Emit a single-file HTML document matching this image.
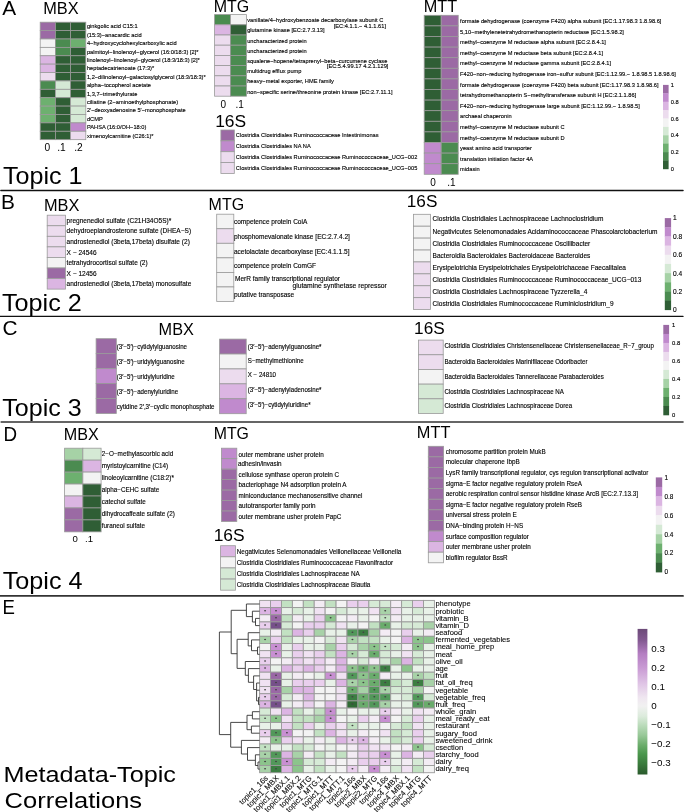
<!DOCTYPE html>
<html><head><meta charset="utf-8"><title>Figure</title>
<style>
html,body{margin:0;padding:0;background:#fff;}
body{width:685px;height:812px;overflow:hidden;}
svg{display:block;font-family:"Liberation Sans",sans-serif;will-change:transform;}
</style></head><body>
<svg width="685" height="812" viewBox="0 0 685 812">
<rect x="0" y="0" width="685" height="812" fill="#fff"/>
<line x1="0.9" y1="190.6" x2="683" y2="190.6" stroke="#111" stroke-width="1.5" stroke-linecap="round"/>
<line x1="0" y1="316.4" x2="683" y2="316.4" stroke="#111" stroke-width="1.3" stroke-linecap="round"/>
<line x1="1.2" y1="422.05" x2="683" y2="422.05" stroke="#333" stroke-width="1.6" stroke-linecap="round"/>
<line x1="0" y1="595.95" x2="683" y2="595.95" stroke="#333" stroke-width="1.8" stroke-linecap="round"/>
<text x="2.20" y="14.60" font-size="20.8" fill="#000">A</text>
<text x="1.00" y="208.70" font-size="20.8" fill="#000">B</text>
<text x="2.40" y="334.50" font-size="20.8" fill="#000">C</text>
<text x="3.60" y="441.00" font-size="20.8" fill="#000" textLength="13.6" lengthAdjust="spacingAndGlyphs">D</text>
<text x="2.40" y="614.00" font-size="20.8" fill="#000" textLength="12.4" lengthAdjust="spacingAndGlyphs">E</text>
<text x="3.00" y="184.20" font-size="23.8" fill="#000" textLength="79.5" lengthAdjust="spacingAndGlyphs">Topic 1</text>
<text x="2.00" y="310.50" font-size="23.8" fill="#000" textLength="79.8" lengthAdjust="spacingAndGlyphs">Topic 2</text>
<text x="2.30" y="415.60" font-size="23.8" fill="#000" textLength="79.3" lengthAdjust="spacingAndGlyphs">Topic 3</text>
<text x="2.70" y="588.60" font-size="23.8" fill="#000" textLength="79.8" lengthAdjust="spacingAndGlyphs">Topic 4</text>
<text x="3.50" y="782.10" font-size="22.5" fill="#000" textLength="172.5" lengthAdjust="spacingAndGlyphs">Metadata-Topic</text>
<text x="4.60" y="808.40" font-size="22.5" fill="#000" textLength="137.5" lengthAdjust="spacingAndGlyphs">Correlations</text>
<text x="43.20" y="14.00" font-size="16.7" fill="#000" textLength="35.4" lengthAdjust="spacingAndGlyphs">MBX</text>
<text x="213.80" y="11.70" font-size="16.7" fill="#000" textLength="35.5" lengthAdjust="spacingAndGlyphs">MTG</text>
<text x="215.20" y="127.00" font-size="16.7" fill="#000" textLength="31" lengthAdjust="spacingAndGlyphs">16S</text>
<text x="423.80" y="11.70" font-size="16.7" fill="#000" textLength="33.4" lengthAdjust="spacingAndGlyphs">MTT</text>
<text x="43.90" y="211.30" font-size="16.7" fill="#000" textLength="35.4" lengthAdjust="spacingAndGlyphs">MBX</text>
<text x="208.60" y="209.50" font-size="16.7" fill="#000" textLength="35.5" lengthAdjust="spacingAndGlyphs">MTG</text>
<text x="406.80" y="206.90" font-size="16.7" fill="#000" textLength="30.6" lengthAdjust="spacingAndGlyphs">16S</text>
<text x="158.60" y="334.60" font-size="16.7" fill="#000" textLength="35.3" lengthAdjust="spacingAndGlyphs">MBX</text>
<text x="414.10" y="334.00" font-size="16.7" fill="#000" textLength="30.6" lengthAdjust="spacingAndGlyphs">16S</text>
<text x="63.70" y="440.00" font-size="16.7" fill="#000" textLength="35.0" lengthAdjust="spacingAndGlyphs">MBX</text>
<text x="213.70" y="438.70" font-size="16.7" fill="#000" textLength="35.2" lengthAdjust="spacingAndGlyphs">MTG</text>
<text x="213.70" y="541.30" font-size="16.7" fill="#000" textLength="31" lengthAdjust="spacingAndGlyphs">16S</text>
<text x="416.80" y="437.50" font-size="16.7" fill="#000" textLength="33.6" lengthAdjust="spacingAndGlyphs">MTT</text>
<rect x="40.20" y="22.20" width="15.20" height="8.39" fill="#9b6aa4" stroke="#999999" stroke-width="0.8"/>
<rect x="55.40" y="22.20" width="15.20" height="8.39" fill="#2f5e35" stroke="#999999" stroke-width="0.8"/>
<rect x="70.60" y="22.20" width="15.20" height="8.39" fill="#2f5e35" stroke="#999999" stroke-width="0.8"/>
<rect x="40.20" y="30.59" width="15.20" height="8.39" fill="#9b6aa4" stroke="#999999" stroke-width="0.8"/>
<rect x="55.40" y="30.59" width="15.20" height="8.39" fill="#2f5e35" stroke="#999999" stroke-width="0.8"/>
<rect x="70.60" y="30.59" width="15.20" height="8.39" fill="#2f5e35" stroke="#999999" stroke-width="0.8"/>
<rect x="40.20" y="38.98" width="15.20" height="8.39" fill="#f3f3f3" stroke="#999999" stroke-width="0.8"/>
<rect x="55.40" y="38.98" width="15.20" height="8.39" fill="#4b8b50" stroke="#999999" stroke-width="0.8"/>
<rect x="70.60" y="38.98" width="15.20" height="8.39" fill="#6db06f" stroke="#999999" stroke-width="0.8"/>
<rect x="40.20" y="47.37" width="15.20" height="8.39" fill="#f3f3f3" stroke="#999999" stroke-width="0.8"/>
<rect x="55.40" y="47.37" width="15.20" height="8.39" fill="#4b8b50" stroke="#999999" stroke-width="0.8"/>
<rect x="70.60" y="47.37" width="15.20" height="8.39" fill="#2f5e35" stroke="#999999" stroke-width="0.8"/>
<rect x="40.20" y="55.76" width="15.20" height="8.39" fill="#dbb5e2" stroke="#999999" stroke-width="0.8"/>
<rect x="55.40" y="55.76" width="15.20" height="8.39" fill="#2f5e35" stroke="#999999" stroke-width="0.8"/>
<rect x="70.60" y="55.76" width="15.20" height="8.39" fill="#2f5e35" stroke="#999999" stroke-width="0.8"/>
<rect x="40.20" y="64.15" width="15.20" height="8.39" fill="#dbb5e2" stroke="#999999" stroke-width="0.8"/>
<rect x="55.40" y="64.15" width="15.20" height="8.39" fill="#2f5e35" stroke="#999999" stroke-width="0.8"/>
<rect x="70.60" y="64.15" width="15.20" height="8.39" fill="#2f5e35" stroke="#999999" stroke-width="0.8"/>
<rect x="40.20" y="72.54" width="15.20" height="8.39" fill="#ecdcee" stroke="#999999" stroke-width="0.8"/>
<rect x="55.40" y="72.54" width="15.20" height="8.39" fill="#2f5e35" stroke="#999999" stroke-width="0.8"/>
<rect x="70.60" y="72.54" width="15.20" height="8.39" fill="#2f5e35" stroke="#999999" stroke-width="0.8"/>
<rect x="40.20" y="80.93" width="15.20" height="8.39" fill="#4b8b50" stroke="#999999" stroke-width="0.8"/>
<rect x="55.40" y="80.93" width="15.20" height="8.39" fill="#d5e9d5" stroke="#999999" stroke-width="0.8"/>
<rect x="70.60" y="80.93" width="15.20" height="8.39" fill="#2f5e35" stroke="#999999" stroke-width="0.8"/>
<rect x="40.20" y="89.32" width="15.20" height="8.39" fill="#2f5e35" stroke="#999999" stroke-width="0.8"/>
<rect x="55.40" y="89.32" width="15.20" height="8.39" fill="#d5e9d5" stroke="#999999" stroke-width="0.8"/>
<rect x="70.60" y="89.32" width="15.20" height="8.39" fill="#2f5e35" stroke="#999999" stroke-width="0.8"/>
<rect x="40.20" y="97.71" width="15.20" height="8.39" fill="#6db06f" stroke="#999999" stroke-width="0.8"/>
<rect x="55.40" y="97.71" width="15.20" height="8.39" fill="#2f5e35" stroke="#999999" stroke-width="0.8"/>
<rect x="70.60" y="97.71" width="15.20" height="8.39" fill="#d5e9d5" stroke="#999999" stroke-width="0.8"/>
<rect x="40.20" y="106.10" width="15.20" height="8.39" fill="#6db06f" stroke="#999999" stroke-width="0.8"/>
<rect x="55.40" y="106.10" width="15.20" height="8.39" fill="#2f5e35" stroke="#999999" stroke-width="0.8"/>
<rect x="70.60" y="106.10" width="15.20" height="8.39" fill="#d5e9d5" stroke="#999999" stroke-width="0.8"/>
<rect x="40.20" y="114.49" width="15.20" height="8.39" fill="#6db06f" stroke="#999999" stroke-width="0.8"/>
<rect x="55.40" y="114.49" width="15.20" height="8.39" fill="#2f5e35" stroke="#999999" stroke-width="0.8"/>
<rect x="70.60" y="114.49" width="15.20" height="8.39" fill="#d5e9d5" stroke="#999999" stroke-width="0.8"/>
<rect x="40.20" y="122.88" width="15.20" height="8.39" fill="#2f5e35" stroke="#999999" stroke-width="0.8"/>
<rect x="55.40" y="122.88" width="15.20" height="8.39" fill="#2f5e35" stroke="#999999" stroke-width="0.8"/>
<rect x="70.60" y="122.88" width="15.20" height="8.39" fill="#c08acd" stroke="#999999" stroke-width="0.8"/>
<rect x="40.20" y="131.27" width="15.20" height="8.39" fill="#2f5e35" stroke="#999999" stroke-width="0.8"/>
<rect x="55.40" y="131.27" width="15.20" height="8.39" fill="#2f5e35" stroke="#999999" stroke-width="0.8"/>
<rect x="70.60" y="131.27" width="15.20" height="8.39" fill="#ecdcee" stroke="#999999" stroke-width="0.8"/>
<text transform="translate(86.90 28.45) scale(1 1.05)" font-size="5.7" fill="#000" stroke="#000" stroke-width="0.12">ginkgolic acid C15:1</text>
<text transform="translate(86.90 36.84) scale(1 1.05)" font-size="5.7" fill="#000" stroke="#000" stroke-width="0.12">(15:3)−anacardic acid</text>
<text transform="translate(86.90 45.23) scale(1 1.05)" font-size="5.7" fill="#000" stroke="#000" stroke-width="0.12">4−hydroxycyclohexylcarboxylic acid</text>
<text transform="translate(86.90 53.62) scale(1 1.05)" font-size="5.7" fill="#000" stroke="#000" stroke-width="0.12">palmitoyl−linolenoyl−glycerol (16:0/18:3) [2]*</text>
<text transform="translate(86.90 62.01) scale(1 1.05)" font-size="5.7" fill="#000" stroke="#000" stroke-width="0.12">linolenoyl−linolenoyl−glycerol (18:3/18:3) [2]*</text>
<text transform="translate(86.90 70.40) scale(1 1.05)" font-size="5.7" fill="#000" stroke="#000" stroke-width="0.12">heptadecatrienoate (17:3)*</text>
<text transform="translate(86.90 78.79) scale(1 1.05)" font-size="5.7" fill="#000" stroke="#000" stroke-width="0.12">1,2−dilinolenoyl−galactosylglycerol (18:3/18:3)*</text>
<text transform="translate(86.90 87.18) scale(1 1.05)" font-size="5.7" fill="#000" stroke="#000" stroke-width="0.12">alpha−tocopherol acetate</text>
<text transform="translate(86.90 95.57) scale(1 1.05)" font-size="5.7" fill="#000" stroke="#000" stroke-width="0.12">1,3,7−trimethylurate</text>
<text transform="translate(86.90 103.96) scale(1 1.05)" font-size="5.7" fill="#000" stroke="#000" stroke-width="0.12">ciliatine (2−aminoethylphosphonate)</text>
<text transform="translate(86.90 112.35) scale(1 1.05)" font-size="5.7" fill="#000" stroke="#000" stroke-width="0.12">2′−deoxyadenosine 5′−monophosphate</text>
<text transform="translate(86.90 120.74) scale(1 1.05)" font-size="5.7" fill="#000" stroke="#000" stroke-width="0.12">dCMP</text>
<text transform="translate(86.90 129.13) scale(1 1.05)" font-size="5.7" fill="#000" stroke="#000" stroke-width="0.12">PAHSA (16:0/OH−18:0)</text>
<text transform="translate(86.90 137.52) scale(1 1.05)" font-size="5.7" fill="#000" stroke="#000" stroke-width="0.12">ximenoylcarnitine (C26:1)*</text>
<text x="44.60" y="151.40" font-size="10.2" fill="#000">0</text>
<text x="57.20" y="151.40" font-size="10.2" fill="#000">.1</text>
<text x="74.20" y="151.40" font-size="10.2" fill="#000">.2</text>
<rect x="214.60" y="14.60" width="15.90" height="10.20" fill="#4b8b50" stroke="#999999" stroke-width="0.8"/>
<rect x="230.50" y="14.60" width="15.90" height="10.20" fill="#f3f3f3" stroke="#999999" stroke-width="0.8"/>
<rect x="214.60" y="24.80" width="15.90" height="10.20" fill="#dbb5e2" stroke="#999999" stroke-width="0.8"/>
<rect x="230.50" y="24.80" width="15.90" height="10.20" fill="#2f5e35" stroke="#999999" stroke-width="0.8"/>
<rect x="214.60" y="35.00" width="15.90" height="10.20" fill="#ecdcee" stroke="#999999" stroke-width="0.8"/>
<rect x="230.50" y="35.00" width="15.90" height="10.20" fill="#4b8b50" stroke="#999999" stroke-width="0.8"/>
<rect x="214.60" y="45.20" width="15.90" height="10.20" fill="#ecdcee" stroke="#999999" stroke-width="0.8"/>
<rect x="230.50" y="45.20" width="15.90" height="10.20" fill="#4b8b50" stroke="#999999" stroke-width="0.8"/>
<rect x="214.60" y="55.40" width="15.90" height="10.20" fill="#ecdcee" stroke="#999999" stroke-width="0.8"/>
<rect x="230.50" y="55.40" width="15.90" height="10.20" fill="#4b8b50" stroke="#999999" stroke-width="0.8"/>
<rect x="214.60" y="65.60" width="15.90" height="10.20" fill="#ecdcee" stroke="#999999" stroke-width="0.8"/>
<rect x="230.50" y="65.60" width="15.90" height="10.20" fill="#4b8b50" stroke="#999999" stroke-width="0.8"/>
<rect x="214.60" y="75.80" width="15.90" height="10.20" fill="#ecdcee" stroke="#999999" stroke-width="0.8"/>
<rect x="230.50" y="75.80" width="15.90" height="10.20" fill="#4b8b50" stroke="#999999" stroke-width="0.8"/>
<rect x="214.60" y="86.00" width="15.90" height="10.20" fill="#ecdcee" stroke="#999999" stroke-width="0.8"/>
<rect x="230.50" y="86.00" width="15.90" height="10.20" fill="#4b8b50" stroke="#999999" stroke-width="0.8"/>
<text transform="translate(247.20 21.75) scale(1 1.05)" font-size="5.7" fill="#000" stroke="#000" stroke-width="0.12">vanillate/4−hydroxybenzoate decarboxylase subunit C</text>
<text transform="translate(247.20 32.45) scale(1 1.05)" font-size="5.7" fill="#000" stroke="#000" stroke-width="0.12">glutamine kinase [EC:2.7.3.13]</text>
<text transform="translate(247.20 42.65) scale(1 1.05)" font-size="5.7" fill="#000" stroke="#000" stroke-width="0.12">uncharacterized protein</text>
<text transform="translate(247.20 52.85) scale(1 1.05)" font-size="5.7" fill="#000" stroke="#000" stroke-width="0.12">uncharacterized protein</text>
<text transform="translate(247.20 63.05) scale(1 1.05)" font-size="5.7" fill="#000" stroke="#000" stroke-width="0.12">squalene−hopene/tetraprenyl−beta−curcumene cyclase</text>
<text transform="translate(247.20 73.25) scale(1 1.05)" font-size="5.7" fill="#000" stroke="#000" stroke-width="0.12">multidrug efflux pump</text>
<text transform="translate(247.20 83.45) scale(1 1.05)" font-size="5.7" fill="#000" stroke="#000" stroke-width="0.12">heavy−metal exporter, HME family</text>
<text transform="translate(247.20 93.65) scale(1 1.05)" font-size="5.7" fill="#000" stroke="#000" stroke-width="0.12">non−specific serine/threonine protein kinase [EC:2.7.11.1]</text>
<text transform="translate(333.70 27.80) scale(1 1.05)" font-size="5.7" fill="#000" stroke="#000" stroke-width="0.12">[EC:4.1.1.− 4.1.1.61]</text>
<text transform="translate(326.80 68.30) scale(1 1.05)" font-size="5.7" fill="#000" stroke="#000" stroke-width="0.12">[EC:5.4.99.17 4.2.1.129]</text>
<text x="220.60" y="107.60" font-size="10.0" fill="#000">0</text>
<text x="235.40" y="107.60" font-size="10.0" fill="#000">.1</text>
<rect x="220.90" y="130.00" width="13.40" height="10.85" fill="#9b6aa4" stroke="#999999" stroke-width="0.8"/>
<rect x="220.90" y="140.85" width="13.40" height="10.85" fill="#c08acd" stroke="#999999" stroke-width="0.8"/>
<rect x="220.90" y="151.70" width="13.40" height="10.85" fill="#ecdcee" stroke="#999999" stroke-width="0.8"/>
<rect x="220.90" y="162.55" width="13.40" height="10.85" fill="#ecdcee" stroke="#999999" stroke-width="0.8"/>
<text transform="translate(235.80 137.48) scale(1 1.05)" font-size="5.7" fill="#000" stroke="#000" stroke-width="0.12">Clostridia Clostridiales Ruminococcaceae Intestinimonas</text>
<text transform="translate(235.80 148.33) scale(1 1.05)" font-size="5.7" fill="#000" stroke="#000" stroke-width="0.12">Clostridia Clostridiales NA NA</text>
<text transform="translate(235.80 159.18) scale(1 1.05)" font-size="5.7" fill="#000" stroke="#000" stroke-width="0.12">Clostridia Clostridiales Ruminococcaceae Ruminococcaceae_UCG−002</text>
<text transform="translate(235.80 170.03) scale(1 1.05)" font-size="5.7" fill="#000" stroke="#000" stroke-width="0.12">Clostridia Clostridiales Ruminococcaceae Ruminococcaceae_UCG−005</text>
<rect x="424.20" y="15.30" width="17.00" height="10.60" fill="#2f5e35" stroke="#999999" stroke-width="0.8"/>
<rect x="441.20" y="15.30" width="17.00" height="10.60" fill="#9b6aa4" stroke="#999999" stroke-width="0.8"/>
<rect x="424.20" y="25.90" width="17.00" height="10.60" fill="#2f5e35" stroke="#999999" stroke-width="0.8"/>
<rect x="441.20" y="25.90" width="17.00" height="10.60" fill="#9b6aa4" stroke="#999999" stroke-width="0.8"/>
<rect x="424.20" y="36.50" width="17.00" height="10.60" fill="#2f5e35" stroke="#999999" stroke-width="0.8"/>
<rect x="441.20" y="36.50" width="17.00" height="10.60" fill="#9b6aa4" stroke="#999999" stroke-width="0.8"/>
<rect x="424.20" y="47.10" width="17.00" height="10.60" fill="#2f5e35" stroke="#999999" stroke-width="0.8"/>
<rect x="441.20" y="47.10" width="17.00" height="10.60" fill="#9b6aa4" stroke="#999999" stroke-width="0.8"/>
<rect x="424.20" y="57.70" width="17.00" height="10.60" fill="#2f5e35" stroke="#999999" stroke-width="0.8"/>
<rect x="441.20" y="57.70" width="17.00" height="10.60" fill="#9b6aa4" stroke="#999999" stroke-width="0.8"/>
<rect x="424.20" y="68.30" width="17.00" height="10.60" fill="#2f5e35" stroke="#999999" stroke-width="0.8"/>
<rect x="441.20" y="68.30" width="17.00" height="10.60" fill="#9b6aa4" stroke="#999999" stroke-width="0.8"/>
<rect x="424.20" y="78.90" width="17.00" height="10.60" fill="#2f5e35" stroke="#999999" stroke-width="0.8"/>
<rect x="441.20" y="78.90" width="17.00" height="10.60" fill="#9b6aa4" stroke="#999999" stroke-width="0.8"/>
<rect x="424.20" y="89.50" width="17.00" height="10.60" fill="#2f5e35" stroke="#999999" stroke-width="0.8"/>
<rect x="441.20" y="89.50" width="17.00" height="10.60" fill="#9b6aa4" stroke="#999999" stroke-width="0.8"/>
<rect x="424.20" y="100.10" width="17.00" height="10.60" fill="#2f5e35" stroke="#999999" stroke-width="0.8"/>
<rect x="441.20" y="100.10" width="17.00" height="10.60" fill="#9b6aa4" stroke="#999999" stroke-width="0.8"/>
<rect x="424.20" y="110.70" width="17.00" height="10.60" fill="#2f5e35" stroke="#999999" stroke-width="0.8"/>
<rect x="441.20" y="110.70" width="17.00" height="10.60" fill="#9b6aa4" stroke="#999999" stroke-width="0.8"/>
<rect x="424.20" y="121.30" width="17.00" height="10.60" fill="#2f5e35" stroke="#999999" stroke-width="0.8"/>
<rect x="441.20" y="121.30" width="17.00" height="10.60" fill="#9b6aa4" stroke="#999999" stroke-width="0.8"/>
<rect x="424.20" y="131.90" width="17.00" height="10.60" fill="#2f5e35" stroke="#999999" stroke-width="0.8"/>
<rect x="441.20" y="131.90" width="17.00" height="10.60" fill="#9b6aa4" stroke="#999999" stroke-width="0.8"/>
<rect x="424.20" y="142.50" width="17.00" height="10.60" fill="#c08acd" stroke="#999999" stroke-width="0.8"/>
<rect x="441.20" y="142.50" width="17.00" height="10.60" fill="#4b8b50" stroke="#999999" stroke-width="0.8"/>
<rect x="424.20" y="153.10" width="17.00" height="10.60" fill="#c08acd" stroke="#999999" stroke-width="0.8"/>
<rect x="441.20" y="153.10" width="17.00" height="10.60" fill="#4b8b50" stroke="#999999" stroke-width="0.8"/>
<rect x="424.20" y="163.70" width="17.00" height="10.60" fill="#c08acd" stroke="#999999" stroke-width="0.8"/>
<rect x="441.20" y="163.70" width="17.00" height="10.60" fill="#4b8b50" stroke="#999999" stroke-width="0.8"/>
<text transform="translate(460.10 23.05) scale(1 1.05)" font-size="5.7" fill="#000" stroke="#000" stroke-width="0.12">formate dehydrogenase (coenzyme F420) alpha subunit [EC:1.17.98.3 1.8.98.6]</text>
<text transform="translate(460.10 33.65) scale(1 1.05)" font-size="5.7" fill="#000" stroke="#000" stroke-width="0.12">5,10−methylenetetrahydromethanopterin reductase [EC:1.5.98.2]</text>
<text transform="translate(460.10 44.25) scale(1 1.05)" font-size="5.7" fill="#000" stroke="#000" stroke-width="0.12">methyl−coenzyme M reductase alpha subunit [EC:2.8.4.1]</text>
<text transform="translate(460.10 54.85) scale(1 1.05)" font-size="5.7" fill="#000" stroke="#000" stroke-width="0.12">methyl−coenzyme M reductase beta subunit [EC:2.8.4.1]</text>
<text transform="translate(460.10 65.45) scale(1 1.05)" font-size="5.7" fill="#000" stroke="#000" stroke-width="0.12">methyl−coenzyme M reductase gamma subunit [EC:2.8.4.1]</text>
<text transform="translate(460.10 76.05) scale(1 1.05)" font-size="5.7" fill="#000" stroke="#000" stroke-width="0.12">F420−non−reducing hydrogenase iron−sulfur subunit [EC:1.12.99.− 1.8.98.5 1.8.98.6]</text>
<text transform="translate(460.10 86.65) scale(1 1.05)" font-size="5.7" fill="#000" stroke="#000" stroke-width="0.12">formate dehydrogenase (coenzyme F420) beta subunit [EC:1.17.98.3 1.8.98.6]</text>
<text transform="translate(460.10 97.25) scale(1 1.05)" font-size="5.7" fill="#000" stroke="#000" stroke-width="0.12">tetrahydromethanopterin S−methyltransferase subunit H [EC:2.1.1.86]</text>
<text transform="translate(460.10 107.85) scale(1 1.05)" font-size="5.7" fill="#000" stroke="#000" stroke-width="0.12">F420−non−reducing hydrogenase large subunit [EC:1.12.99.− 1.8.98.5]</text>
<text transform="translate(460.10 118.45) scale(1 1.05)" font-size="5.7" fill="#000" stroke="#000" stroke-width="0.12">archaeal chaperonin</text>
<text transform="translate(460.10 129.05) scale(1 1.05)" font-size="5.7" fill="#000" stroke="#000" stroke-width="0.12">methyl−coenzyme M reductase subunit C</text>
<text transform="translate(460.10 139.65) scale(1 1.05)" font-size="5.7" fill="#000" stroke="#000" stroke-width="0.12">methyl−coenzyme M reductase subunit D</text>
<text transform="translate(460.10 150.25) scale(1 1.05)" font-size="5.7" fill="#000" stroke="#000" stroke-width="0.12">yeast amino acid transporter</text>
<text transform="translate(460.10 160.85) scale(1 1.05)" font-size="5.7" fill="#000" stroke="#000" stroke-width="0.12">translation initiation factor 4A</text>
<text transform="translate(460.10 171.45) scale(1 1.05)" font-size="5.7" fill="#000" stroke="#000" stroke-width="0.12">midasin</text>
<text x="430.20" y="185.80" font-size="10.0" fill="#000">0</text>
<text x="447.30" y="185.80" font-size="10.0" fill="#000">.1</text>
<rect x="663.0" y="84.90" width="5.6" height="8.70" fill="#9b6aa4"/>
<rect x="663.0" y="93.30" width="5.6" height="8.70" fill="#c08acd"/>
<rect x="663.0" y="101.70" width="5.6" height="8.70" fill="#dbb5e2"/>
<rect x="663.0" y="110.10" width="5.6" height="8.70" fill="#ecdcee"/>
<rect x="663.0" y="118.50" width="5.6" height="8.70" fill="#f3f3f3"/>
<rect x="663.0" y="126.90" width="5.6" height="8.70" fill="#d5e9d5"/>
<rect x="663.0" y="135.30" width="5.6" height="8.70" fill="#a6d2a6"/>
<rect x="663.0" y="143.70" width="5.6" height="8.70" fill="#6db06f"/>
<rect x="663.0" y="152.10" width="5.6" height="8.70" fill="#4b8b50"/>
<rect x="663.0" y="160.50" width="5.6" height="8.70" fill="#2f5e35"/>
<text transform="translate(670.80 86.95) scale(1 1.05)" font-size="5.7" fill="#000" stroke="#000" stroke-width="0.12">1</text>
<text transform="translate(670.80 103.75) scale(1 1.05)" font-size="5.7" fill="#000" stroke="#000" stroke-width="0.12">0.8</text>
<text transform="translate(670.80 120.55) scale(1 1.05)" font-size="5.7" fill="#000" stroke="#000" stroke-width="0.12">0.6</text>
<text transform="translate(670.80 137.35) scale(1 1.05)" font-size="5.7" fill="#000" stroke="#000" stroke-width="0.12">0.4</text>
<text transform="translate(670.80 154.15) scale(1 1.05)" font-size="5.7" fill="#000" stroke="#000" stroke-width="0.12">0.2</text>
<text transform="translate(670.80 170.95) scale(1 1.05)" font-size="5.7" fill="#000" stroke="#000" stroke-width="0.12">0</text>
<rect x="47.20" y="215.20" width="18.20" height="10.56" fill="#ecdcee" stroke="#999999" stroke-width="0.8"/>
<rect x="47.20" y="225.76" width="18.20" height="10.56" fill="#ecdcee" stroke="#999999" stroke-width="0.8"/>
<rect x="47.20" y="236.32" width="18.20" height="10.56" fill="#ecdcee" stroke="#999999" stroke-width="0.8"/>
<rect x="47.20" y="246.88" width="18.20" height="10.56" fill="#ecdcee" stroke="#999999" stroke-width="0.8"/>
<rect x="47.20" y="257.44" width="18.20" height="10.56" fill="#f3f3f3" stroke="#999999" stroke-width="0.8"/>
<rect x="47.20" y="268.00" width="18.20" height="10.56" fill="#9b6aa4" stroke="#999999" stroke-width="0.8"/>
<rect x="47.20" y="278.56" width="18.20" height="10.56" fill="#dbb5e2" stroke="#999999" stroke-width="0.8"/>
<text transform="translate(66.60 222.84) scale(1 1.05)" font-size="6.55" fill="#000" stroke="#000" stroke-width="0.12">pregnenediol sulfate (C21H34O5S)*</text>
<text transform="translate(66.60 233.40) scale(1 1.05)" font-size="6.55" fill="#000" stroke="#000" stroke-width="0.12">dehydroepiandrosterone sulfate (DHEA−S)</text>
<text transform="translate(66.60 243.96) scale(1 1.05)" font-size="6.55" fill="#000" stroke="#000" stroke-width="0.12">androstenediol (3beta,17beta) disulfate (2)</text>
<text transform="translate(66.60 254.52) scale(1 1.05)" font-size="6.55" fill="#000" stroke="#000" stroke-width="0.12">X − 24546</text>
<text transform="translate(66.60 265.08) scale(1 1.05)" font-size="6.55" fill="#000" stroke="#000" stroke-width="0.12">tetrahydrocortisol sulfate (2)</text>
<text transform="translate(66.60 275.64) scale(1 1.05)" font-size="6.55" fill="#000" stroke="#000" stroke-width="0.12">X − 12456</text>
<text transform="translate(66.60 286.20) scale(1 1.05)" font-size="6.55" fill="#000" stroke="#000" stroke-width="0.12">androstenediol (3beta,17beta) monosulfate</text>
<rect x="216.70" y="214.20" width="17.10" height="14.55" fill="#f3f3f3" stroke="#999999" stroke-width="0.8"/>
<rect x="216.70" y="228.75" width="17.10" height="14.55" fill="#ecdcee" stroke="#999999" stroke-width="0.8"/>
<rect x="216.70" y="243.30" width="17.10" height="14.55" fill="#f3f3f3" stroke="#999999" stroke-width="0.8"/>
<rect x="216.70" y="257.85" width="17.10" height="14.55" fill="#f3f3f3" stroke="#999999" stroke-width="0.8"/>
<rect x="216.70" y="272.40" width="17.10" height="14.55" fill="#f3f3f3" stroke="#999999" stroke-width="0.8"/>
<rect x="216.70" y="286.95" width="17.10" height="14.55" fill="#f3f3f3" stroke="#999999" stroke-width="0.8"/>
<text transform="translate(233.90 224.23) scale(1 1.05)" font-size="6.55" fill="#000" stroke="#000" stroke-width="0.12">competence protein CoiA</text>
<text transform="translate(233.90 239.18) scale(1 1.05)" font-size="6.55" fill="#000" stroke="#000" stroke-width="0.12">phosphomevalonate kinase [EC:2.7.4.2]</text>
<text transform="translate(233.90 253.53) scale(1 1.05)" font-size="6.55" fill="#000" stroke="#000" stroke-width="0.12">acetolactate decarboxylase [EC:4.1.1.5]</text>
<text transform="translate(233.90 268.28) scale(1 1.05)" font-size="6.55" fill="#000" stroke="#000" stroke-width="0.12">competence protein ComGF</text>
<text transform="translate(233.90 296.58) scale(1 1.05)" font-size="6.55" fill="#000" stroke="#000" stroke-width="0.12">putative transposase</text>
<text transform="translate(235.00 280.90) scale(1 1.05)" font-size="6.55" fill="#000" stroke="#000" stroke-width="0.12">MerR family transcriptional regulator</text>
<text transform="translate(292.40 287.95) scale(1 1.05)" font-size="6.78" fill="#000" stroke="#000" stroke-width="0.12">glutamine synthetase repressor</text>
<rect x="413.50" y="214.30" width="17.00" height="11.91" fill="#f3f3f3" stroke="#999999" stroke-width="0.8"/>
<rect x="413.50" y="226.21" width="17.00" height="11.91" fill="#f3f3f3" stroke="#999999" stroke-width="0.8"/>
<rect x="413.50" y="238.12" width="17.00" height="11.91" fill="#f3f3f3" stroke="#999999" stroke-width="0.8"/>
<rect x="413.50" y="250.03" width="17.00" height="11.91" fill="#f3f3f3" stroke="#999999" stroke-width="0.8"/>
<rect x="413.50" y="261.94" width="17.00" height="11.91" fill="#ecdcee" stroke="#999999" stroke-width="0.8"/>
<rect x="413.50" y="273.85" width="17.00" height="11.91" fill="#ecdcee" stroke="#999999" stroke-width="0.8"/>
<rect x="413.50" y="285.76" width="17.00" height="11.91" fill="#ecdcee" stroke="#999999" stroke-width="0.8"/>
<rect x="413.50" y="297.67" width="17.00" height="11.91" fill="#ecdcee" stroke="#999999" stroke-width="0.8"/>
<text transform="translate(432.60 221.41) scale(1 1.05)" font-size="6.55" fill="#000" stroke="#000" stroke-width="0.12">Clostridia Clostridiales Lachnospiraceae Lachnoclostridium</text>
<text transform="translate(432.60 233.72) scale(1 1.05)" font-size="6.55" fill="#000" stroke="#000" stroke-width="0.12">Negativicutes Selenomonadales Acidaminococcaceae Phascolarctobacterium</text>
<text transform="translate(432.60 246.43) scale(1 1.05)" font-size="6.55" fill="#000" stroke="#000" stroke-width="0.12">Clostridia Clostridiales Ruminococcaceae Oscillibacter</text>
<text transform="translate(432.60 258.34) scale(1 1.05)" font-size="6.55" fill="#000" stroke="#000" stroke-width="0.12">Bacteroidia Bacteroidales Bacteroidaceae Bacteroides</text>
<text transform="translate(432.60 270.25) scale(1 1.05)" font-size="6.55" fill="#000" stroke="#000" stroke-width="0.12">Erysipelotrichia Erysipelotrichales Erysipelotrichaceae Faecalitalea</text>
<text transform="translate(432.60 282.16) scale(1 1.05)" font-size="6.55" fill="#000" stroke="#000" stroke-width="0.12">Clostridia Clostridiales Ruminococcaceae Ruminococcaceae_UCG−013</text>
<text transform="translate(432.60 294.07) scale(1 1.05)" font-size="6.55" fill="#000" stroke="#000" stroke-width="0.12">Clostridia Clostridiales Lachnospiraceae Tyzzerella_4</text>
<text transform="translate(432.60 305.98) scale(1 1.05)" font-size="6.55" fill="#000" stroke="#000" stroke-width="0.12">Clostridia Clostridiales Ruminococcaceae Ruminiclostridium_9</text>
<rect x="664.8" y="218.10" width="6.3" height="9.47" fill="#9b6aa4"/>
<rect x="664.8" y="227.27" width="6.3" height="9.47" fill="#c08acd"/>
<rect x="664.8" y="236.44" width="6.3" height="9.47" fill="#dbb5e2"/>
<rect x="664.8" y="245.61" width="6.3" height="9.47" fill="#ecdcee"/>
<rect x="664.8" y="254.78" width="6.3" height="9.47" fill="#f3f3f3"/>
<rect x="664.8" y="263.95" width="6.3" height="9.47" fill="#d5e9d5"/>
<rect x="664.8" y="273.12" width="6.3" height="9.47" fill="#a6d2a6"/>
<rect x="664.8" y="282.29" width="6.3" height="9.47" fill="#6db06f"/>
<rect x="664.8" y="291.46" width="6.3" height="9.47" fill="#4b8b50"/>
<rect x="664.8" y="300.63" width="6.3" height="9.47" fill="#2f5e35"/>
<text transform="translate(672.90 220.48) scale(1 1.05)" font-size="6.6" fill="#000" stroke="#000" stroke-width="0.12">1</text>
<text transform="translate(672.90 238.82) scale(1 1.05)" font-size="6.6" fill="#000" stroke="#000" stroke-width="0.12">0.8</text>
<text transform="translate(672.90 257.16) scale(1 1.05)" font-size="6.6" fill="#000" stroke="#000" stroke-width="0.12">0.6</text>
<text transform="translate(672.90 275.50) scale(1 1.05)" font-size="6.6" fill="#000" stroke="#000" stroke-width="0.12">0.4</text>
<text transform="translate(672.90 293.84) scale(1 1.05)" font-size="6.6" fill="#000" stroke="#000" stroke-width="0.12">0.2</text>
<text transform="translate(672.90 312.18) scale(1 1.05)" font-size="6.6" fill="#000" stroke="#000" stroke-width="0.12">0</text>
<rect x="96.10" y="338.70" width="20.20" height="14.96" fill="#9b6aa4" stroke="#999999" stroke-width="0.8"/>
<rect x="96.10" y="353.66" width="20.20" height="14.96" fill="#9b6aa4" stroke="#999999" stroke-width="0.8"/>
<rect x="96.10" y="368.62" width="20.20" height="14.96" fill="#c08acd" stroke="#999999" stroke-width="0.8"/>
<rect x="96.10" y="383.58" width="20.20" height="14.96" fill="#9b6aa4" stroke="#999999" stroke-width="0.8"/>
<rect x="96.10" y="398.54" width="20.20" height="14.96" fill="#9b6aa4" stroke="#999999" stroke-width="0.8"/>
<text transform="translate(116.80 349.00) scale(1 1.05)" font-size="6.16" fill="#000" stroke="#000" stroke-width="0.12">(3′−5′)−cytidylylguanosine</text>
<text transform="translate(116.80 363.96) scale(1 1.05)" font-size="6.16" fill="#000" stroke="#000" stroke-width="0.12">(3′−5′)−uridylylguanosine</text>
<text transform="translate(116.80 378.92) scale(1 1.05)" font-size="6.16" fill="#000" stroke="#000" stroke-width="0.12">(3′−5′)−uridylyluridine</text>
<text transform="translate(116.80 393.88) scale(1 1.05)" font-size="6.16" fill="#000" stroke="#000" stroke-width="0.12">(3′−5′)−adenylyluridine</text>
<text transform="translate(116.80 408.84) scale(1 1.05)" font-size="6.16" fill="#000" stroke="#000" stroke-width="0.12">cytidine 2′,3′−cyclic monophosphate</text>
<rect x="219.60" y="339.10" width="26.60" height="14.92" fill="#9b6aa4" stroke="#999999" stroke-width="0.8"/>
<rect x="219.60" y="354.02" width="26.60" height="14.92" fill="#f3f3f3" stroke="#999999" stroke-width="0.8"/>
<rect x="219.60" y="368.94" width="26.60" height="14.92" fill="#ecdcee" stroke="#999999" stroke-width="0.8"/>
<rect x="219.60" y="383.86" width="26.60" height="14.92" fill="#dbb5e2" stroke="#999999" stroke-width="0.8"/>
<rect x="219.60" y="398.78" width="26.60" height="14.92" fill="#c08acd" stroke="#999999" stroke-width="0.8"/>
<text transform="translate(247.80 348.50) scale(1 1.05)" font-size="6.16" fill="#000" stroke="#000" stroke-width="0.12">(3′−5′)−adenylylguanosine*</text>
<text transform="translate(247.80 363.40) scale(1 1.05)" font-size="6.16" fill="#000" stroke="#000" stroke-width="0.12">S−methylmethionine</text>
<text transform="translate(247.80 377.40) scale(1 1.05)" font-size="6.16" fill="#000" stroke="#000" stroke-width="0.12">X − 24810</text>
<text transform="translate(247.80 392.20) scale(1 1.05)" font-size="6.16" fill="#000" stroke="#000" stroke-width="0.12">(3′−5′)−adenylyladenosine*</text>
<text transform="translate(247.80 406.90) scale(1 1.05)" font-size="6.16" fill="#000" stroke="#000" stroke-width="0.12">(3′−5′)−cytidylyluridine*</text>
<rect x="418.40" y="340.10" width="24.80" height="14.68" fill="#ecdcee" stroke="#999999" stroke-width="0.8"/>
<rect x="418.40" y="354.78" width="24.80" height="14.68" fill="#ecdcee" stroke="#999999" stroke-width="0.8"/>
<rect x="418.40" y="369.46" width="24.80" height="14.68" fill="#f3f3f3" stroke="#999999" stroke-width="0.8"/>
<rect x="418.40" y="384.14" width="24.80" height="14.68" fill="#d5e9d5" stroke="#999999" stroke-width="0.8"/>
<rect x="418.40" y="398.82" width="24.80" height="14.68" fill="#d5e9d5" stroke="#999999" stroke-width="0.8"/>
<text transform="translate(444.40 347.96) scale(1 1.05)" font-size="6.16" fill="#000" stroke="#000" stroke-width="0.12">Clostridia Clostridiales Christensenellaceae Christensenellaceae_R−7_group</text>
<text transform="translate(444.40 364.34) scale(1 1.05)" font-size="6.16" fill="#000" stroke="#000" stroke-width="0.12">Bacteroidia Bacteroidales Marinifilaceae Odoribacter</text>
<text transform="translate(444.40 379.02) scale(1 1.05)" font-size="6.16" fill="#000" stroke="#000" stroke-width="0.12">Bacteroidia Bacteroidales Tannerellaceae Parabacteroides</text>
<text transform="translate(444.40 393.70) scale(1 1.05)" font-size="6.16" fill="#000" stroke="#000" stroke-width="0.12">Clostridia Clostridiales Lachnospiraceae NA</text>
<text transform="translate(444.40 408.38) scale(1 1.05)" font-size="6.16" fill="#000" stroke="#000" stroke-width="0.12">Clostridia Clostridiales Lachnospiraceae Dorea</text>
<rect x="663.3" y="324.90" width="5.8" height="9.31" fill="#9b6aa4"/>
<rect x="663.3" y="333.91" width="5.8" height="9.31" fill="#c08acd"/>
<rect x="663.3" y="342.92" width="5.8" height="9.31" fill="#dbb5e2"/>
<rect x="663.3" y="351.93" width="5.8" height="9.31" fill="#ecdcee"/>
<rect x="663.3" y="360.94" width="5.8" height="9.31" fill="#f3f3f3"/>
<rect x="663.3" y="369.95" width="5.8" height="9.31" fill="#d5e9d5"/>
<rect x="663.3" y="378.96" width="5.8" height="9.31" fill="#a6d2a6"/>
<rect x="663.3" y="387.97" width="5.8" height="9.31" fill="#6db06f"/>
<rect x="663.3" y="396.98" width="5.8" height="9.31" fill="#4b8b50"/>
<rect x="663.3" y="405.99" width="5.8" height="9.31" fill="#2f5e35"/>
<text transform="translate(672.10 327.02) scale(1 1.05)" font-size="5.9" fill="#000" stroke="#000" stroke-width="0.12">1</text>
<text transform="translate(672.10 345.04) scale(1 1.05)" font-size="5.9" fill="#000" stroke="#000" stroke-width="0.12">0.8</text>
<text transform="translate(672.10 363.06) scale(1 1.05)" font-size="5.9" fill="#000" stroke="#000" stroke-width="0.12">0.6</text>
<text transform="translate(672.10 381.08) scale(1 1.05)" font-size="5.9" fill="#000" stroke="#000" stroke-width="0.12">0.4</text>
<text transform="translate(672.10 399.10) scale(1 1.05)" font-size="5.9" fill="#000" stroke="#000" stroke-width="0.12">0.2</text>
<text transform="translate(672.10 417.12) scale(1 1.05)" font-size="5.9" fill="#000" stroke="#000" stroke-width="0.12">0</text>
<rect x="64.60" y="448.20" width="18.25" height="11.95" fill="#a6d2a6" stroke="#999999" stroke-width="0.8"/>
<rect x="82.85" y="448.20" width="18.25" height="11.95" fill="#d5e9d5" stroke="#999999" stroke-width="0.8"/>
<rect x="64.60" y="460.15" width="18.25" height="11.95" fill="#4b8b50" stroke="#999999" stroke-width="0.8"/>
<rect x="82.85" y="460.15" width="18.25" height="11.95" fill="#dbb5e2" stroke="#999999" stroke-width="0.8"/>
<rect x="64.60" y="472.10" width="18.25" height="11.95" fill="#6db06f" stroke="#999999" stroke-width="0.8"/>
<rect x="82.85" y="472.10" width="18.25" height="11.95" fill="#f3f3f3" stroke="#999999" stroke-width="0.8"/>
<rect x="64.60" y="484.05" width="18.25" height="11.95" fill="#f3f3f3" stroke="#999999" stroke-width="0.8"/>
<rect x="82.85" y="484.05" width="18.25" height="11.95" fill="#2f5e35" stroke="#999999" stroke-width="0.8"/>
<rect x="64.60" y="496.00" width="18.25" height="11.95" fill="#dbb5e2" stroke="#999999" stroke-width="0.8"/>
<rect x="82.85" y="496.00" width="18.25" height="11.95" fill="#2f5e35" stroke="#999999" stroke-width="0.8"/>
<rect x="64.60" y="507.95" width="18.25" height="11.95" fill="#9b6aa4" stroke="#999999" stroke-width="0.8"/>
<rect x="82.85" y="507.95" width="18.25" height="11.95" fill="#2f5e35" stroke="#999999" stroke-width="0.8"/>
<rect x="64.60" y="519.90" width="18.25" height="11.95" fill="#9b6aa4" stroke="#999999" stroke-width="0.8"/>
<rect x="82.85" y="519.90" width="18.25" height="11.95" fill="#2f5e35" stroke="#999999" stroke-width="0.8"/>
<text transform="translate(101.80 456.45) scale(1 1.05)" font-size="6.33" fill="#000" stroke="#000" stroke-width="0.12">2−O−methylascorbic acid</text>
<text transform="translate(101.80 468.40) scale(1 1.05)" font-size="6.33" fill="#000" stroke="#000" stroke-width="0.12">myristoylcarnitine (C14)</text>
<text transform="translate(101.80 480.35) scale(1 1.05)" font-size="6.33" fill="#000" stroke="#000" stroke-width="0.12">linoleoylcarnitine (C18:2)*</text>
<text transform="translate(101.80 492.30) scale(1 1.05)" font-size="6.33" fill="#000" stroke="#000" stroke-width="0.12">alpha−CEHC sulfate</text>
<text transform="translate(101.80 504.25) scale(1 1.05)" font-size="6.33" fill="#000" stroke="#000" stroke-width="0.12">catechol sulfate</text>
<text transform="translate(101.80 516.20) scale(1 1.05)" font-size="6.33" fill="#000" stroke="#000" stroke-width="0.12">dihydrocaffeate sulfate (2)</text>
<text transform="translate(101.80 528.15) scale(1 1.05)" font-size="6.33" fill="#000" stroke="#000" stroke-width="0.12">furaneol sulfate</text>
<text x="72.60" y="542.00" font-size="9.6" fill="#000">0</text>
<text x="85.00" y="542.00" font-size="9.6" fill="#000">.1</text>
<rect x="221.50" y="448.20" width="15.30" height="10.47" fill="#c08acd" stroke="#999999" stroke-width="0.8"/>
<rect x="221.50" y="458.67" width="15.30" height="10.47" fill="#c08acd" stroke="#999999" stroke-width="0.8"/>
<rect x="221.50" y="469.14" width="15.30" height="10.47" fill="#9b6aa4" stroke="#999999" stroke-width="0.8"/>
<rect x="221.50" y="479.61" width="15.30" height="10.47" fill="#9b6aa4" stroke="#999999" stroke-width="0.8"/>
<rect x="221.50" y="490.08" width="15.30" height="10.47" fill="#9b6aa4" stroke="#999999" stroke-width="0.8"/>
<rect x="221.50" y="500.55" width="15.30" height="10.47" fill="#9b6aa4" stroke="#999999" stroke-width="0.8"/>
<rect x="221.50" y="511.02" width="15.30" height="10.47" fill="#9b6aa4" stroke="#999999" stroke-width="0.8"/>
<text transform="translate(238.60 456.81) scale(1 1.05)" font-size="6.33" fill="#000" stroke="#000" stroke-width="0.12">outer membrane usher protein</text>
<text transform="translate(238.00 466.48) scale(1 1.05)" font-size="6.33" fill="#000" stroke="#000" stroke-width="0.12">adhesin/invasin</text>
<text transform="translate(238.60 476.95) scale(1 1.05)" font-size="6.33" fill="#000" stroke="#000" stroke-width="0.12">cellulose synthase operon protein C</text>
<text transform="translate(238.60 487.42) scale(1 1.05)" font-size="6.33" fill="#000" stroke="#000" stroke-width="0.12">bacteriophage N4 adsorption protein A</text>
<text transform="translate(238.60 497.89) scale(1 1.05)" font-size="6.33" fill="#000" stroke="#000" stroke-width="0.12">miniconductance mechanosensitive channel</text>
<text transform="translate(238.60 508.36) scale(1 1.05)" font-size="6.33" fill="#000" stroke="#000" stroke-width="0.12">autotransporter family porin</text>
<text transform="translate(238.60 518.83) scale(1 1.05)" font-size="6.33" fill="#000" stroke="#000" stroke-width="0.12">outer membrane usher protein PapC</text>
<rect x="220.60" y="545.70" width="14.80" height="11.12" fill="#dbb5e2" stroke="#999999" stroke-width="0.8"/>
<rect x="220.60" y="556.82" width="14.80" height="11.12" fill="#f3f3f3" stroke="#999999" stroke-width="0.8"/>
<rect x="220.60" y="567.94" width="14.80" height="11.12" fill="#d5e9d5" stroke="#999999" stroke-width="0.8"/>
<rect x="220.60" y="579.06" width="14.80" height="11.12" fill="#d5e9d5" stroke="#999999" stroke-width="0.8"/>
<text transform="translate(236.80 553.54) scale(1 1.05)" font-size="6.33" fill="#000" stroke="#000" stroke-width="0.12">Negativicutes Selenomonadales Veillonellaceae Veillonella</text>
<text transform="translate(236.80 564.66) scale(1 1.05)" font-size="6.33" fill="#000" stroke="#000" stroke-width="0.12">Clostridia Clostridiales Ruminococcaceae Flavonifractor</text>
<text transform="translate(236.80 575.78) scale(1 1.05)" font-size="6.33" fill="#000" stroke="#000" stroke-width="0.12">Clostridia Clostridiales Lachnospiraceae NA</text>
<text transform="translate(236.80 586.90) scale(1 1.05)" font-size="6.33" fill="#000" stroke="#000" stroke-width="0.12">Clostridia Clostridiales Lachnospiraceae Blautia</text>
<rect x="428.30" y="446.30" width="15.30" height="10.59" fill="#9b6aa4" stroke="#999999" stroke-width="0.8"/>
<rect x="428.30" y="456.89" width="15.30" height="10.59" fill="#9b6aa4" stroke="#999999" stroke-width="0.8"/>
<rect x="428.30" y="467.48" width="15.30" height="10.59" fill="#9b6aa4" stroke="#999999" stroke-width="0.8"/>
<rect x="428.30" y="478.07" width="15.30" height="10.59" fill="#9b6aa4" stroke="#999999" stroke-width="0.8"/>
<rect x="428.30" y="488.66" width="15.30" height="10.59" fill="#9b6aa4" stroke="#999999" stroke-width="0.8"/>
<rect x="428.30" y="499.25" width="15.30" height="10.59" fill="#9b6aa4" stroke="#999999" stroke-width="0.8"/>
<rect x="428.30" y="509.84" width="15.30" height="10.59" fill="#9b6aa4" stroke="#999999" stroke-width="0.8"/>
<rect x="428.30" y="520.43" width="15.30" height="10.59" fill="#9b6aa4" stroke="#999999" stroke-width="0.8"/>
<rect x="428.30" y="531.02" width="15.30" height="10.59" fill="#c08acd" stroke="#999999" stroke-width="0.8"/>
<rect x="428.30" y="541.61" width="15.30" height="10.59" fill="#dbb5e2" stroke="#999999" stroke-width="0.8"/>
<rect x="428.30" y="552.20" width="15.30" height="10.59" fill="#f3f3f3" stroke="#999999" stroke-width="0.8"/>
<text transform="translate(445.80 453.87) scale(1 1.05)" font-size="6.33" fill="#000" stroke="#000" stroke-width="0.12">chromosome partition protein MukB</text>
<text transform="translate(445.80 464.46) scale(1 1.05)" font-size="6.33" fill="#000" stroke="#000" stroke-width="0.12">molecular chaperone IbpB</text>
<text transform="translate(445.80 475.05) scale(1 1.05)" font-size="6.33" fill="#000" stroke="#000" stroke-width="0.12">LysR family transcriptional regulator, cys regulon transcriptional activator</text>
<text transform="translate(445.80 485.64) scale(1 1.05)" font-size="6.33" fill="#000" stroke="#000" stroke-width="0.12">sigma−E factor negative regulatory protein RseA</text>
<text transform="translate(445.80 496.23) scale(1 1.05)" font-size="6.33" fill="#000" stroke="#000" stroke-width="0.12">aerobic respiration control sensor histidine kinase ArcB [EC:2.7.13.3]</text>
<text transform="translate(445.80 506.82) scale(1 1.05)" font-size="6.33" fill="#000" stroke="#000" stroke-width="0.12">sigma−E factor negative regulatory protein RseB</text>
<text transform="translate(445.80 517.41) scale(1 1.05)" font-size="6.33" fill="#000" stroke="#000" stroke-width="0.12">universal stress protein E</text>
<text transform="translate(445.80 528.00) scale(1 1.05)" font-size="6.33" fill="#000" stroke="#000" stroke-width="0.12">DNA−binding protein H−NS</text>
<text transform="translate(445.80 538.59) scale(1 1.05)" font-size="6.33" fill="#000" stroke="#000" stroke-width="0.12">surface composition regulator</text>
<text transform="translate(445.80 549.18) scale(1 1.05)" font-size="6.33" fill="#000" stroke="#000" stroke-width="0.12">outer membrane usher protein</text>
<text transform="translate(445.80 559.77) scale(1 1.05)" font-size="6.33" fill="#000" stroke="#000" stroke-width="0.12">biofilm regulator BssR</text>
<rect x="655.8" y="477.40" width="6.4" height="9.77" fill="#9b6aa4"/>
<rect x="655.8" y="486.87" width="6.4" height="9.77" fill="#c08acd"/>
<rect x="655.8" y="496.34" width="6.4" height="9.77" fill="#dbb5e2"/>
<rect x="655.8" y="505.81" width="6.4" height="9.77" fill="#ecdcee"/>
<rect x="655.8" y="515.28" width="6.4" height="9.77" fill="#f3f3f3"/>
<rect x="655.8" y="524.75" width="6.4" height="9.77" fill="#d5e9d5"/>
<rect x="655.8" y="534.22" width="6.4" height="9.77" fill="#a6d2a6"/>
<rect x="655.8" y="543.69" width="6.4" height="9.77" fill="#6db06f"/>
<rect x="655.8" y="553.16" width="6.4" height="9.77" fill="#4b8b50"/>
<rect x="655.8" y="562.63" width="6.4" height="9.77" fill="#2f5e35"/>
<text transform="translate(664.40 479.70) scale(1 1.05)" font-size="6.4" fill="#000" stroke="#000" stroke-width="0.12">1</text>
<text transform="translate(664.40 498.64) scale(1 1.05)" font-size="6.4" fill="#000" stroke="#000" stroke-width="0.12">0.8</text>
<text transform="translate(664.40 517.58) scale(1 1.05)" font-size="6.4" fill="#000" stroke="#000" stroke-width="0.12">0.6</text>
<text transform="translate(664.40 536.52) scale(1 1.05)" font-size="6.4" fill="#000" stroke="#000" stroke-width="0.12">0.4</text>
<text transform="translate(664.40 555.46) scale(1 1.05)" font-size="6.4" fill="#000" stroke="#000" stroke-width="0.12">0.2</text>
<text transform="translate(664.40 574.40) scale(1 1.05)" font-size="6.4" fill="#000" stroke="#000" stroke-width="0.12">0</text>
<rect x="259.60" y="600.40" width="10.93" height="7.18" fill="#f0e2f2" stroke="#999" stroke-width="0.9"/>
<rect x="270.53" y="600.40" width="10.93" height="7.18" fill="#e9cfed" stroke="#999" stroke-width="0.9"/>
<rect x="281.45" y="600.40" width="10.93" height="7.18" fill="#c2e1c2" stroke="#999" stroke-width="0.9"/>
<rect x="292.38" y="600.40" width="10.93" height="7.18" fill="#f3f3f3" stroke="#999" stroke-width="0.9"/>
<rect x="303.30" y="600.40" width="10.93" height="7.18" fill="#c2e1c2" stroke="#999" stroke-width="0.9"/>
<rect x="314.23" y="600.40" width="10.93" height="7.18" fill="#f3ecf4" stroke="#999" stroke-width="0.9"/>
<rect x="325.15" y="600.40" width="10.93" height="7.18" fill="#c2e1c2" stroke="#999" stroke-width="0.9"/>
<rect x="336.08" y="600.40" width="10.93" height="7.18" fill="#f3f3f3" stroke="#999" stroke-width="0.9"/>
<rect x="347.00" y="600.40" width="10.93" height="7.18" fill="#e9cfed" stroke="#999" stroke-width="0.9"/>
<rect x="357.93" y="600.40" width="10.93" height="7.18" fill="#e9cfed" stroke="#999" stroke-width="0.9"/>
<rect x="368.85" y="600.40" width="10.93" height="7.18" fill="#d6ead6" stroke="#999" stroke-width="0.9"/>
<rect x="379.78" y="600.40" width="10.93" height="7.18" fill="#d6ead6" stroke="#999" stroke-width="0.9"/>
<rect x="390.70" y="600.40" width="10.93" height="7.18" fill="#f3ecf4" stroke="#999" stroke-width="0.9"/>
<rect x="401.62" y="600.40" width="10.93" height="7.18" fill="#d6ead6" stroke="#999" stroke-width="0.9"/>
<rect x="412.55" y="600.40" width="10.93" height="7.18" fill="#e9cfed" stroke="#999" stroke-width="0.9"/>
<rect x="423.48" y="600.40" width="10.93" height="7.18" fill="#e8f1e8" stroke="#999" stroke-width="0.9"/>
<text x="435.40" y="606.34" font-size="7.55" fill="#000" stroke="#000" stroke-width="0.08">phenotype</text>
<rect x="259.60" y="607.58" width="10.93" height="7.18" fill="#dcb4e3" stroke="#999" stroke-width="0.9"/>
<rect x="270.53" y="607.58" width="10.93" height="7.18" fill="#c88fd2" stroke="#999" stroke-width="0.9"/>
<rect x="281.45" y="607.58" width="10.93" height="7.18" fill="#e8f1e8" stroke="#999" stroke-width="0.9"/>
<rect x="292.38" y="607.58" width="10.93" height="7.18" fill="#d6ead6" stroke="#999" stroke-width="0.9"/>
<rect x="303.30" y="607.58" width="10.93" height="7.18" fill="#e8f1e8" stroke="#999" stroke-width="0.9"/>
<rect x="314.23" y="607.58" width="10.93" height="7.18" fill="#f0e2f2" stroke="#999" stroke-width="0.9"/>
<rect x="325.15" y="607.58" width="10.93" height="7.18" fill="#f3f3f3" stroke="#999" stroke-width="0.9"/>
<rect x="336.08" y="607.58" width="10.93" height="7.18" fill="#d6ead6" stroke="#999" stroke-width="0.9"/>
<rect x="347.00" y="607.58" width="10.93" height="7.18" fill="#e8f1e8" stroke="#999" stroke-width="0.9"/>
<rect x="357.93" y="607.58" width="10.93" height="7.18" fill="#e8f1e8" stroke="#999" stroke-width="0.9"/>
<rect x="368.85" y="607.58" width="10.93" height="7.18" fill="#f0e2f2" stroke="#999" stroke-width="0.9"/>
<rect x="379.78" y="607.58" width="10.93" height="7.18" fill="#a8d2a8" stroke="#999" stroke-width="0.9"/>
<rect x="390.70" y="607.58" width="10.93" height="7.18" fill="#f0e2f2" stroke="#999" stroke-width="0.9"/>
<rect x="401.62" y="607.58" width="10.93" height="7.18" fill="#e8f1e8" stroke="#999" stroke-width="0.9"/>
<rect x="412.55" y="607.58" width="10.93" height="7.18" fill="#d6ead6" stroke="#999" stroke-width="0.9"/>
<rect x="423.48" y="607.58" width="10.93" height="7.18" fill="#e8f1e8" stroke="#999" stroke-width="0.9"/>
<ellipse cx="265.06" cy="610.67" rx="1.0" ry="0.75" fill="#444"/>
<ellipse cx="275.99" cy="610.67" rx="1.0" ry="0.75" fill="#444"/>
<ellipse cx="385.24" cy="610.67" rx="1.0" ry="0.75" fill="#444"/>
<text x="435.40" y="613.52" font-size="7.55" fill="#000" stroke="#000" stroke-width="0.08">probiotic</text>
<rect x="259.60" y="614.76" width="10.93" height="7.18" fill="#f3ecf4" stroke="#999" stroke-width="0.9"/>
<rect x="270.53" y="614.76" width="10.93" height="7.18" fill="#9a68a6" stroke="#999" stroke-width="0.9"/>
<rect x="281.45" y="614.76" width="10.93" height="7.18" fill="#c2e1c2" stroke="#999" stroke-width="0.9"/>
<rect x="292.38" y="614.76" width="10.93" height="7.18" fill="#f3ecf4" stroke="#999" stroke-width="0.9"/>
<rect x="303.30" y="614.76" width="10.93" height="7.18" fill="#e8f1e8" stroke="#999" stroke-width="0.9"/>
<rect x="314.23" y="614.76" width="10.93" height="7.18" fill="#e9cfed" stroke="#999" stroke-width="0.9"/>
<rect x="325.15" y="614.76" width="10.93" height="7.18" fill="#8cc48c" stroke="#999" stroke-width="0.9"/>
<rect x="336.08" y="614.76" width="10.93" height="7.18" fill="#f3f3f3" stroke="#999" stroke-width="0.9"/>
<rect x="347.00" y="614.76" width="10.93" height="7.18" fill="#f3ecf4" stroke="#999" stroke-width="0.9"/>
<rect x="357.93" y="614.76" width="10.93" height="7.18" fill="#e8f1e8" stroke="#999" stroke-width="0.9"/>
<rect x="368.85" y="614.76" width="10.93" height="7.18" fill="#f3f3f3" stroke="#999" stroke-width="0.9"/>
<rect x="379.78" y="614.76" width="10.93" height="7.18" fill="#c2e1c2" stroke="#999" stroke-width="0.9"/>
<rect x="390.70" y="614.76" width="10.93" height="7.18" fill="#f3ecf4" stroke="#999" stroke-width="0.9"/>
<rect x="401.62" y="614.76" width="10.93" height="7.18" fill="#e8f1e8" stroke="#999" stroke-width="0.9"/>
<rect x="412.55" y="614.76" width="10.93" height="7.18" fill="#e8f1e8" stroke="#999" stroke-width="0.9"/>
<rect x="423.48" y="614.76" width="10.93" height="7.18" fill="#e8f1e8" stroke="#999" stroke-width="0.9"/>
<ellipse cx="275.99" cy="617.85" rx="1.0" ry="0.75" fill="#444"/>
<ellipse cx="330.61" cy="617.85" rx="1.0" ry="0.75" fill="#444"/>
<ellipse cx="385.24" cy="617.85" rx="1.0" ry="0.75" fill="#444"/>
<text x="435.40" y="620.70" font-size="7.55" fill="#000" stroke="#000" stroke-width="0.08">vitamin_B</text>
<rect x="259.60" y="621.94" width="10.93" height="7.18" fill="#e9cfed" stroke="#999" stroke-width="0.9"/>
<rect x="270.53" y="621.94" width="10.93" height="7.18" fill="#76508a" stroke="#999" stroke-width="0.9"/>
<rect x="281.45" y="621.94" width="10.93" height="7.18" fill="#d6ead6" stroke="#999" stroke-width="0.9"/>
<rect x="292.38" y="621.94" width="10.93" height="7.18" fill="#f3f3f3" stroke="#999" stroke-width="0.9"/>
<rect x="303.30" y="621.94" width="10.93" height="7.18" fill="#e9cfed" stroke="#999" stroke-width="0.9"/>
<rect x="314.23" y="621.94" width="10.93" height="7.18" fill="#e9cfed" stroke="#999" stroke-width="0.9"/>
<rect x="325.15" y="621.94" width="10.93" height="7.18" fill="#d6ead6" stroke="#999" stroke-width="0.9"/>
<rect x="336.08" y="621.94" width="10.93" height="7.18" fill="#f0e2f2" stroke="#999" stroke-width="0.9"/>
<rect x="347.00" y="621.94" width="10.93" height="7.18" fill="#e8f1e8" stroke="#999" stroke-width="0.9"/>
<rect x="357.93" y="621.94" width="10.93" height="7.18" fill="#f3f3f3" stroke="#999" stroke-width="0.9"/>
<rect x="368.85" y="621.94" width="10.93" height="7.18" fill="#c2e1c2" stroke="#999" stroke-width="0.9"/>
<rect x="379.78" y="621.94" width="10.93" height="7.18" fill="#6aac6c" stroke="#999" stroke-width="0.9"/>
<rect x="390.70" y="621.94" width="10.93" height="7.18" fill="#e8f1e8" stroke="#999" stroke-width="0.9"/>
<rect x="401.62" y="621.94" width="10.93" height="7.18" fill="#d6ead6" stroke="#999" stroke-width="0.9"/>
<rect x="412.55" y="621.94" width="10.93" height="7.18" fill="#d6ead6" stroke="#999" stroke-width="0.9"/>
<rect x="423.48" y="621.94" width="10.93" height="7.18" fill="#a8d2a8" stroke="#999" stroke-width="0.9"/>
<ellipse cx="265.06" cy="625.03" rx="1.0" ry="0.75" fill="#444"/>
<ellipse cx="275.99" cy="625.03" rx="1.0" ry="0.75" fill="#444"/>
<ellipse cx="385.24" cy="625.03" rx="1.0" ry="0.75" fill="#444"/>
<text x="435.40" y="627.88" font-size="7.55" fill="#000" stroke="#000" stroke-width="0.08">vitamin_D</text>
<rect x="259.60" y="629.12" width="10.93" height="7.18" fill="#e8f1e8" stroke="#999" stroke-width="0.9"/>
<rect x="270.53" y="629.12" width="10.93" height="7.18" fill="#f3ecf4" stroke="#999" stroke-width="0.9"/>
<rect x="281.45" y="629.12" width="10.93" height="7.18" fill="#c2e1c2" stroke="#999" stroke-width="0.9"/>
<rect x="292.38" y="629.12" width="10.93" height="7.18" fill="#dcb4e3" stroke="#999" stroke-width="0.9"/>
<rect x="303.30" y="629.12" width="10.93" height="7.18" fill="#e9cfed" stroke="#999" stroke-width="0.9"/>
<rect x="314.23" y="629.12" width="10.93" height="7.18" fill="#a8d2a8" stroke="#999" stroke-width="0.9"/>
<rect x="325.15" y="629.12" width="10.93" height="7.18" fill="#e8f1e8" stroke="#999" stroke-width="0.9"/>
<rect x="336.08" y="629.12" width="10.93" height="7.18" fill="#e8f1e8" stroke="#999" stroke-width="0.9"/>
<rect x="347.00" y="629.12" width="10.93" height="7.18" fill="#52985a" stroke="#999" stroke-width="0.9"/>
<rect x="357.93" y="629.12" width="10.93" height="7.18" fill="#3c7e42" stroke="#999" stroke-width="0.9"/>
<rect x="368.85" y="629.12" width="10.93" height="7.18" fill="#a8d2a8" stroke="#999" stroke-width="0.9"/>
<rect x="379.78" y="629.12" width="10.93" height="7.18" fill="#f3ecf4" stroke="#999" stroke-width="0.9"/>
<rect x="390.70" y="629.12" width="10.93" height="7.18" fill="#f3f3f3" stroke="#999" stroke-width="0.9"/>
<rect x="401.62" y="629.12" width="10.93" height="7.18" fill="#e9cfed" stroke="#999" stroke-width="0.9"/>
<rect x="412.55" y="629.12" width="10.93" height="7.18" fill="#e8f1e8" stroke="#999" stroke-width="0.9"/>
<rect x="423.48" y="629.12" width="10.93" height="7.18" fill="#f3ecf4" stroke="#999" stroke-width="0.9"/>
<ellipse cx="352.46" cy="632.21" rx="1.0" ry="0.75" fill="#444"/>
<ellipse cx="363.39" cy="632.21" rx="1.0" ry="0.75" fill="#444"/>
<text x="435.40" y="635.06" font-size="7.55" fill="#000" stroke="#000" stroke-width="0.08">seafood</text>
<rect x="259.60" y="636.30" width="10.93" height="7.18" fill="#a8d2a8" stroke="#999" stroke-width="0.9"/>
<rect x="270.53" y="636.30" width="10.93" height="7.18" fill="#e9cfed" stroke="#999" stroke-width="0.9"/>
<rect x="281.45" y="636.30" width="10.93" height="7.18" fill="#c2e1c2" stroke="#999" stroke-width="0.9"/>
<rect x="292.38" y="636.30" width="10.93" height="7.18" fill="#e8f1e8" stroke="#999" stroke-width="0.9"/>
<rect x="303.30" y="636.30" width="10.93" height="7.18" fill="#e8f1e8" stroke="#999" stroke-width="0.9"/>
<rect x="314.23" y="636.30" width="10.93" height="7.18" fill="#f3f3f3" stroke="#999" stroke-width="0.9"/>
<rect x="325.15" y="636.30" width="10.93" height="7.18" fill="#d6ead6" stroke="#999" stroke-width="0.9"/>
<rect x="336.08" y="636.30" width="10.93" height="7.18" fill="#f0e2f2" stroke="#999" stroke-width="0.9"/>
<rect x="347.00" y="636.30" width="10.93" height="7.18" fill="#a8d2a8" stroke="#999" stroke-width="0.9"/>
<rect x="357.93" y="636.30" width="10.93" height="7.18" fill="#c2e1c2" stroke="#999" stroke-width="0.9"/>
<rect x="368.85" y="636.30" width="10.93" height="7.18" fill="#c2e1c2" stroke="#999" stroke-width="0.9"/>
<rect x="379.78" y="636.30" width="10.93" height="7.18" fill="#e8f1e8" stroke="#999" stroke-width="0.9"/>
<rect x="390.70" y="636.30" width="10.93" height="7.18" fill="#f3f3f3" stroke="#999" stroke-width="0.9"/>
<rect x="401.62" y="636.30" width="10.93" height="7.18" fill="#dcb4e3" stroke="#999" stroke-width="0.9"/>
<rect x="412.55" y="636.30" width="10.93" height="7.18" fill="#8cc48c" stroke="#999" stroke-width="0.9"/>
<rect x="423.48" y="636.30" width="10.93" height="7.18" fill="#8cc48c" stroke="#999" stroke-width="0.9"/>
<ellipse cx="265.06" cy="639.39" rx="1.0" ry="0.75" fill="#444"/>
<ellipse cx="352.46" cy="639.39" rx="1.0" ry="0.75" fill="#444"/>
<ellipse cx="418.01" cy="639.39" rx="1.0" ry="0.75" fill="#444"/>
<text x="435.40" y="642.24" font-size="7.55" fill="#000" stroke="#000" stroke-width="0.08">fermented_vegetables</text>
<rect x="259.60" y="643.48" width="10.93" height="7.18" fill="#f3f3f3" stroke="#999" stroke-width="0.9"/>
<rect x="270.53" y="643.48" width="10.93" height="7.18" fill="#c88fd2" stroke="#999" stroke-width="0.9"/>
<rect x="281.45" y="643.48" width="10.93" height="7.18" fill="#e8f1e8" stroke="#999" stroke-width="0.9"/>
<rect x="292.38" y="643.48" width="10.93" height="7.18" fill="#e9cfed" stroke="#999" stroke-width="0.9"/>
<rect x="303.30" y="643.48" width="10.93" height="7.18" fill="#e8f1e8" stroke="#999" stroke-width="0.9"/>
<rect x="314.23" y="643.48" width="10.93" height="7.18" fill="#e8f1e8" stroke="#999" stroke-width="0.9"/>
<rect x="325.15" y="643.48" width="10.93" height="7.18" fill="#a8d2a8" stroke="#999" stroke-width="0.9"/>
<rect x="336.08" y="643.48" width="10.93" height="7.18" fill="#e9cfed" stroke="#999" stroke-width="0.9"/>
<rect x="347.00" y="643.48" width="10.93" height="7.18" fill="#d6ead6" stroke="#999" stroke-width="0.9"/>
<rect x="357.93" y="643.48" width="10.93" height="7.18" fill="#a8d2a8" stroke="#999" stroke-width="0.9"/>
<rect x="368.85" y="643.48" width="10.93" height="7.18" fill="#8cc48c" stroke="#999" stroke-width="0.9"/>
<rect x="379.78" y="643.48" width="10.93" height="7.18" fill="#c2e1c2" stroke="#999" stroke-width="0.9"/>
<rect x="390.70" y="643.48" width="10.93" height="7.18" fill="#d6ead6" stroke="#999" stroke-width="0.9"/>
<rect x="401.62" y="643.48" width="10.93" height="7.18" fill="#f3ecf4" stroke="#999" stroke-width="0.9"/>
<rect x="412.55" y="643.48" width="10.93" height="7.18" fill="#8cc48c" stroke="#999" stroke-width="0.9"/>
<rect x="423.48" y="643.48" width="10.93" height="7.18" fill="#e8f1e8" stroke="#999" stroke-width="0.9"/>
<ellipse cx="275.99" cy="646.57" rx="1.0" ry="0.75" fill="#444"/>
<ellipse cx="374.31" cy="646.57" rx="1.0" ry="0.75" fill="#444"/>
<ellipse cx="385.24" cy="646.57" rx="1.0" ry="0.75" fill="#444"/>
<ellipse cx="418.01" cy="646.57" rx="1.0" ry="0.75" fill="#444"/>
<text x="435.40" y="649.42" font-size="7.55" fill="#000" stroke="#000" stroke-width="0.08">meal_home_prep</text>
<rect x="259.60" y="650.66" width="10.93" height="7.18" fill="#f0e2f2" stroke="#999" stroke-width="0.9"/>
<rect x="270.53" y="650.66" width="10.93" height="7.18" fill="#c88fd2" stroke="#999" stroke-width="0.9"/>
<rect x="281.45" y="650.66" width="10.93" height="7.18" fill="#e8f1e8" stroke="#999" stroke-width="0.9"/>
<rect x="292.38" y="650.66" width="10.93" height="7.18" fill="#e9cfed" stroke="#999" stroke-width="0.9"/>
<rect x="303.30" y="650.66" width="10.93" height="7.18" fill="#f0e2f2" stroke="#999" stroke-width="0.9"/>
<rect x="314.23" y="650.66" width="10.93" height="7.18" fill="#e9cfed" stroke="#999" stroke-width="0.9"/>
<rect x="325.15" y="650.66" width="10.93" height="7.18" fill="#c2e1c2" stroke="#999" stroke-width="0.9"/>
<rect x="336.08" y="650.66" width="10.93" height="7.18" fill="#dcb4e3" stroke="#999" stroke-width="0.9"/>
<rect x="347.00" y="650.66" width="10.93" height="7.18" fill="#a8d2a8" stroke="#999" stroke-width="0.9"/>
<rect x="357.93" y="650.66" width="10.93" height="7.18" fill="#d6ead6" stroke="#999" stroke-width="0.9"/>
<rect x="368.85" y="650.66" width="10.93" height="7.18" fill="#6aac6c" stroke="#999" stroke-width="0.9"/>
<rect x="379.78" y="650.66" width="10.93" height="7.18" fill="#d6ead6" stroke="#999" stroke-width="0.9"/>
<rect x="390.70" y="650.66" width="10.93" height="7.18" fill="#e8f1e8" stroke="#999" stroke-width="0.9"/>
<rect x="401.62" y="650.66" width="10.93" height="7.18" fill="#f0e2f2" stroke="#999" stroke-width="0.9"/>
<rect x="412.55" y="650.66" width="10.93" height="7.18" fill="#d6ead6" stroke="#999" stroke-width="0.9"/>
<rect x="423.48" y="650.66" width="10.93" height="7.18" fill="#e8f1e8" stroke="#999" stroke-width="0.9"/>
<ellipse cx="275.99" cy="653.75" rx="1.0" ry="0.75" fill="#444"/>
<ellipse cx="352.46" cy="653.75" rx="1.0" ry="0.75" fill="#444"/>
<ellipse cx="374.31" cy="653.75" rx="1.0" ry="0.75" fill="#444"/>
<text x="435.40" y="656.60" font-size="7.55" fill="#000" stroke="#000" stroke-width="0.08">meat</text>
<rect x="259.60" y="657.84" width="10.93" height="7.18" fill="#e9cfed" stroke="#999" stroke-width="0.9"/>
<rect x="270.53" y="657.84" width="10.93" height="7.18" fill="#f3f3f3" stroke="#999" stroke-width="0.9"/>
<rect x="281.45" y="657.84" width="10.93" height="7.18" fill="#f3ecf4" stroke="#999" stroke-width="0.9"/>
<rect x="292.38" y="657.84" width="10.93" height="7.18" fill="#e9cfed" stroke="#999" stroke-width="0.9"/>
<rect x="303.30" y="657.84" width="10.93" height="7.18" fill="#f0e2f2" stroke="#999" stroke-width="0.9"/>
<rect x="314.23" y="657.84" width="10.93" height="7.18" fill="#e9cfed" stroke="#999" stroke-width="0.9"/>
<rect x="325.15" y="657.84" width="10.93" height="7.18" fill="#f3ecf4" stroke="#999" stroke-width="0.9"/>
<rect x="336.08" y="657.84" width="10.93" height="7.18" fill="#dcb4e3" stroke="#999" stroke-width="0.9"/>
<rect x="347.00" y="657.84" width="10.93" height="7.18" fill="#f3f3f3" stroke="#999" stroke-width="0.9"/>
<rect x="357.93" y="657.84" width="10.93" height="7.18" fill="#d6ead6" stroke="#999" stroke-width="0.9"/>
<rect x="368.85" y="657.84" width="10.93" height="7.18" fill="#f3ecf4" stroke="#999" stroke-width="0.9"/>
<rect x="379.78" y="657.84" width="10.93" height="7.18" fill="#d6ead6" stroke="#999" stroke-width="0.9"/>
<rect x="390.70" y="657.84" width="10.93" height="7.18" fill="#a8d2a8" stroke="#999" stroke-width="0.9"/>
<rect x="401.62" y="657.84" width="10.93" height="7.18" fill="#dcb4e3" stroke="#999" stroke-width="0.9"/>
<rect x="412.55" y="657.84" width="10.93" height="7.18" fill="#c2e1c2" stroke="#999" stroke-width="0.9"/>
<rect x="423.48" y="657.84" width="10.93" height="7.18" fill="#e8f1e8" stroke="#999" stroke-width="0.9"/>
<ellipse cx="265.06" cy="660.93" rx="1.0" ry="0.75" fill="#444"/>
<text x="435.40" y="663.78" font-size="7.55" fill="#000" stroke="#000" stroke-width="0.08">olive_oil</text>
<rect x="259.60" y="665.02" width="10.93" height="7.18" fill="#dcb4e3" stroke="#999" stroke-width="0.9"/>
<rect x="270.53" y="665.02" width="10.93" height="7.18" fill="#e8f1e8" stroke="#999" stroke-width="0.9"/>
<rect x="281.45" y="665.02" width="10.93" height="7.18" fill="#dcb4e3" stroke="#999" stroke-width="0.9"/>
<rect x="292.38" y="665.02" width="10.93" height="7.18" fill="#e9cfed" stroke="#999" stroke-width="0.9"/>
<rect x="303.30" y="665.02" width="10.93" height="7.18" fill="#dcb4e3" stroke="#999" stroke-width="0.9"/>
<rect x="314.23" y="665.02" width="10.93" height="7.18" fill="#e9cfed" stroke="#999" stroke-width="0.9"/>
<rect x="325.15" y="665.02" width="10.93" height="7.18" fill="#f3ecf4" stroke="#999" stroke-width="0.9"/>
<rect x="336.08" y="665.02" width="10.93" height="7.18" fill="#dcb4e3" stroke="#999" stroke-width="0.9"/>
<rect x="347.00" y="665.02" width="10.93" height="7.18" fill="#8cc48c" stroke="#999" stroke-width="0.9"/>
<rect x="357.93" y="665.02" width="10.93" height="7.18" fill="#6aac6c" stroke="#999" stroke-width="0.9"/>
<rect x="368.85" y="665.02" width="10.93" height="7.18" fill="#8cc48c" stroke="#999" stroke-width="0.9"/>
<rect x="379.78" y="665.02" width="10.93" height="7.18" fill="#3c7e42" stroke="#999" stroke-width="0.9"/>
<rect x="390.70" y="665.02" width="10.93" height="7.18" fill="#e8f1e8" stroke="#999" stroke-width="0.9"/>
<rect x="401.62" y="665.02" width="10.93" height="7.18" fill="#8cc48c" stroke="#999" stroke-width="0.9"/>
<rect x="412.55" y="665.02" width="10.93" height="7.18" fill="#e8f1e8" stroke="#999" stroke-width="0.9"/>
<rect x="423.48" y="665.02" width="10.93" height="7.18" fill="#e8f1e8" stroke="#999" stroke-width="0.9"/>
<ellipse cx="265.06" cy="668.11" rx="1.0" ry="0.75" fill="#444"/>
<ellipse cx="352.46" cy="668.11" rx="1.0" ry="0.75" fill="#444"/>
<ellipse cx="363.39" cy="668.11" rx="1.0" ry="0.75" fill="#444"/>
<ellipse cx="374.31" cy="668.11" rx="1.0" ry="0.75" fill="#444"/>
<ellipse cx="385.24" cy="668.11" rx="1.0" ry="0.75" fill="#444"/>
<text x="435.40" y="670.96" font-size="7.55" fill="#000" stroke="#000" stroke-width="0.08">age</text>
<rect x="259.60" y="672.20" width="10.93" height="7.18" fill="#f0e2f2" stroke="#999" stroke-width="0.9"/>
<rect x="270.53" y="672.20" width="10.93" height="7.18" fill="#9a68a6" stroke="#999" stroke-width="0.9"/>
<rect x="281.45" y="672.20" width="10.93" height="7.18" fill="#e8f1e8" stroke="#999" stroke-width="0.9"/>
<rect x="292.38" y="672.20" width="10.93" height="7.18" fill="#f3ecf4" stroke="#999" stroke-width="0.9"/>
<rect x="303.30" y="672.20" width="10.93" height="7.18" fill="#f3f3f3" stroke="#999" stroke-width="0.9"/>
<rect x="314.23" y="672.20" width="10.93" height="7.18" fill="#e8f1e8" stroke="#999" stroke-width="0.9"/>
<rect x="325.15" y="672.20" width="10.93" height="7.18" fill="#c88fd2" stroke="#999" stroke-width="0.9"/>
<rect x="336.08" y="672.20" width="10.93" height="7.18" fill="#f0e2f2" stroke="#999" stroke-width="0.9"/>
<rect x="347.00" y="672.20" width="10.93" height="7.18" fill="#52985a" stroke="#999" stroke-width="0.9"/>
<rect x="357.93" y="672.20" width="10.93" height="7.18" fill="#8cc48c" stroke="#999" stroke-width="0.9"/>
<rect x="368.85" y="672.20" width="10.93" height="7.18" fill="#6aac6c" stroke="#999" stroke-width="0.9"/>
<rect x="379.78" y="672.20" width="10.93" height="7.18" fill="#f3ecf4" stroke="#999" stroke-width="0.9"/>
<rect x="390.70" y="672.20" width="10.93" height="7.18" fill="#e8f1e8" stroke="#999" stroke-width="0.9"/>
<rect x="401.62" y="672.20" width="10.93" height="7.18" fill="#e8f1e8" stroke="#999" stroke-width="0.9"/>
<rect x="412.55" y="672.20" width="10.93" height="7.18" fill="#a8d2a8" stroke="#999" stroke-width="0.9"/>
<rect x="423.48" y="672.20" width="10.93" height="7.18" fill="#c2e1c2" stroke="#999" stroke-width="0.9"/>
<ellipse cx="275.99" cy="675.29" rx="1.0" ry="0.75" fill="#444"/>
<ellipse cx="330.61" cy="675.29" rx="1.0" ry="0.75" fill="#444"/>
<ellipse cx="352.46" cy="675.29" rx="1.0" ry="0.75" fill="#444"/>
<ellipse cx="363.39" cy="675.29" rx="1.0" ry="0.75" fill="#444"/>
<ellipse cx="374.31" cy="675.29" rx="1.0" ry="0.75" fill="#444"/>
<ellipse cx="418.01" cy="675.29" rx="1.0" ry="0.75" fill="#444"/>
<text x="435.40" y="678.14" font-size="7.55" fill="#000" stroke="#000" stroke-width="0.08">fruit</text>
<rect x="259.60" y="679.38" width="10.93" height="7.18" fill="#f0e2f2" stroke="#999" stroke-width="0.9"/>
<rect x="270.53" y="679.38" width="10.93" height="7.18" fill="#76508a" stroke="#999" stroke-width="0.9"/>
<rect x="281.45" y="679.38" width="10.93" height="7.18" fill="#e8f1e8" stroke="#999" stroke-width="0.9"/>
<rect x="292.38" y="679.38" width="10.93" height="7.18" fill="#e9cfed" stroke="#999" stroke-width="0.9"/>
<rect x="303.30" y="679.38" width="10.93" height="7.18" fill="#e9cfed" stroke="#999" stroke-width="0.9"/>
<rect x="314.23" y="679.38" width="10.93" height="7.18" fill="#e9cfed" stroke="#999" stroke-width="0.9"/>
<rect x="325.15" y="679.38" width="10.93" height="7.18" fill="#e8f1e8" stroke="#999" stroke-width="0.9"/>
<rect x="336.08" y="679.38" width="10.93" height="7.18" fill="#dcb4e3" stroke="#999" stroke-width="0.9"/>
<rect x="347.00" y="679.38" width="10.93" height="7.18" fill="#a8d2a8" stroke="#999" stroke-width="0.9"/>
<rect x="357.93" y="679.38" width="10.93" height="7.18" fill="#8cc48c" stroke="#999" stroke-width="0.9"/>
<rect x="368.85" y="679.38" width="10.93" height="7.18" fill="#6aac6c" stroke="#999" stroke-width="0.9"/>
<rect x="379.78" y="679.38" width="10.93" height="7.18" fill="#3c7e42" stroke="#999" stroke-width="0.9"/>
<rect x="390.70" y="679.38" width="10.93" height="7.18" fill="#c2e1c2" stroke="#999" stroke-width="0.9"/>
<rect x="401.62" y="679.38" width="10.93" height="7.18" fill="#d6ead6" stroke="#999" stroke-width="0.9"/>
<rect x="412.55" y="679.38" width="10.93" height="7.18" fill="#3c7e42" stroke="#999" stroke-width="0.9"/>
<rect x="423.48" y="679.38" width="10.93" height="7.18" fill="#a8d2a8" stroke="#999" stroke-width="0.9"/>
<ellipse cx="275.99" cy="682.47" rx="1.0" ry="0.75" fill="#444"/>
<ellipse cx="352.46" cy="682.47" rx="1.0" ry="0.75" fill="#444"/>
<ellipse cx="363.39" cy="682.47" rx="1.0" ry="0.75" fill="#444"/>
<ellipse cx="374.31" cy="682.47" rx="1.0" ry="0.75" fill="#444"/>
<ellipse cx="385.24" cy="682.47" rx="1.0" ry="0.75" fill="#444"/>
<ellipse cx="418.01" cy="682.47" rx="1.0" ry="0.75" fill="#444"/>
<text x="435.40" y="685.32" font-size="7.55" fill="#000" stroke="#000" stroke-width="0.08">fat_oil_freq</text>
<rect x="259.60" y="686.56" width="10.93" height="7.18" fill="#f0e2f2" stroke="#999" stroke-width="0.9"/>
<rect x="270.53" y="686.56" width="10.93" height="7.18" fill="#9a68a6" stroke="#999" stroke-width="0.9"/>
<rect x="281.45" y="686.56" width="10.93" height="7.18" fill="#a8d2a8" stroke="#999" stroke-width="0.9"/>
<rect x="292.38" y="686.56" width="10.93" height="7.18" fill="#dcb4e3" stroke="#999" stroke-width="0.9"/>
<rect x="303.30" y="686.56" width="10.93" height="7.18" fill="#dcb4e3" stroke="#999" stroke-width="0.9"/>
<rect x="314.23" y="686.56" width="10.93" height="7.18" fill="#f3f3f3" stroke="#999" stroke-width="0.9"/>
<rect x="325.15" y="686.56" width="10.93" height="7.18" fill="#f3f3f3" stroke="#999" stroke-width="0.9"/>
<rect x="336.08" y="686.56" width="10.93" height="7.18" fill="#f0e2f2" stroke="#999" stroke-width="0.9"/>
<rect x="347.00" y="686.56" width="10.93" height="7.18" fill="#6aac6c" stroke="#999" stroke-width="0.9"/>
<rect x="357.93" y="686.56" width="10.93" height="7.18" fill="#a8d2a8" stroke="#999" stroke-width="0.9"/>
<rect x="368.85" y="686.56" width="10.93" height="7.18" fill="#52985a" stroke="#999" stroke-width="0.9"/>
<rect x="379.78" y="686.56" width="10.93" height="7.18" fill="#a8d2a8" stroke="#999" stroke-width="0.9"/>
<rect x="390.70" y="686.56" width="10.93" height="7.18" fill="#d6ead6" stroke="#999" stroke-width="0.9"/>
<rect x="401.62" y="686.56" width="10.93" height="7.18" fill="#d6ead6" stroke="#999" stroke-width="0.9"/>
<rect x="412.55" y="686.56" width="10.93" height="7.18" fill="#a8d2a8" stroke="#999" stroke-width="0.9"/>
<rect x="423.48" y="686.56" width="10.93" height="7.18" fill="#f3f3f3" stroke="#999" stroke-width="0.9"/>
<ellipse cx="265.06" cy="689.65" rx="1.0" ry="0.75" fill="#444"/>
<ellipse cx="275.99" cy="689.65" rx="1.0" ry="0.75" fill="#444"/>
<ellipse cx="352.46" cy="689.65" rx="1.0" ry="0.75" fill="#444"/>
<ellipse cx="374.31" cy="689.65" rx="1.0" ry="0.75" fill="#444"/>
<ellipse cx="385.24" cy="689.65" rx="1.0" ry="0.75" fill="#444"/>
<text x="435.40" y="692.50" font-size="7.55" fill="#000" stroke="#000" stroke-width="0.08">vegetable</text>
<rect x="259.60" y="693.74" width="10.93" height="7.18" fill="#e9cfed" stroke="#999" stroke-width="0.9"/>
<rect x="270.53" y="693.74" width="10.93" height="7.18" fill="#9a68a6" stroke="#999" stroke-width="0.9"/>
<rect x="281.45" y="693.74" width="10.93" height="7.18" fill="#d6ead6" stroke="#999" stroke-width="0.9"/>
<rect x="292.38" y="693.74" width="10.93" height="7.18" fill="#f3ecf4" stroke="#999" stroke-width="0.9"/>
<rect x="303.30" y="693.74" width="10.93" height="7.18" fill="#dcb4e3" stroke="#999" stroke-width="0.9"/>
<rect x="314.23" y="693.74" width="10.93" height="7.18" fill="#f3f3f3" stroke="#999" stroke-width="0.9"/>
<rect x="325.15" y="693.74" width="10.93" height="7.18" fill="#f3f3f3" stroke="#999" stroke-width="0.9"/>
<rect x="336.08" y="693.74" width="10.93" height="7.18" fill="#f0e2f2" stroke="#999" stroke-width="0.9"/>
<rect x="347.00" y="693.74" width="10.93" height="7.18" fill="#3c7e42" stroke="#999" stroke-width="0.9"/>
<rect x="357.93" y="693.74" width="10.93" height="7.18" fill="#6aac6c" stroke="#999" stroke-width="0.9"/>
<rect x="368.85" y="693.74" width="10.93" height="7.18" fill="#52985a" stroke="#999" stroke-width="0.9"/>
<rect x="379.78" y="693.74" width="10.93" height="7.18" fill="#52985a" stroke="#999" stroke-width="0.9"/>
<rect x="390.70" y="693.74" width="10.93" height="7.18" fill="#e8f1e8" stroke="#999" stroke-width="0.9"/>
<rect x="401.62" y="693.74" width="10.93" height="7.18" fill="#d6ead6" stroke="#999" stroke-width="0.9"/>
<rect x="412.55" y="693.74" width="10.93" height="7.18" fill="#52985a" stroke="#999" stroke-width="0.9"/>
<rect x="423.48" y="693.74" width="10.93" height="7.18" fill="#d6ead6" stroke="#999" stroke-width="0.9"/>
<ellipse cx="265.06" cy="696.83" rx="1.0" ry="0.75" fill="#444"/>
<ellipse cx="275.99" cy="696.83" rx="1.0" ry="0.75" fill="#444"/>
<ellipse cx="352.46" cy="696.83" rx="1.0" ry="0.75" fill="#444"/>
<ellipse cx="363.39" cy="696.83" rx="1.0" ry="0.75" fill="#444"/>
<ellipse cx="374.31" cy="696.83" rx="1.0" ry="0.75" fill="#444"/>
<ellipse cx="385.24" cy="696.83" rx="1.0" ry="0.75" fill="#444"/>
<ellipse cx="418.01" cy="696.83" rx="1.0" ry="0.75" fill="#444"/>
<text x="435.40" y="699.68" font-size="7.55" fill="#000" stroke="#000" stroke-width="0.08">vegetable_freq</text>
<rect x="259.60" y="700.92" width="10.93" height="7.18" fill="#dcb4e3" stroke="#999" stroke-width="0.9"/>
<rect x="270.53" y="700.92" width="10.93" height="7.18" fill="#76508a" stroke="#999" stroke-width="0.9"/>
<rect x="281.45" y="700.92" width="10.93" height="7.18" fill="#e8f1e8" stroke="#999" stroke-width="0.9"/>
<rect x="292.38" y="700.92" width="10.93" height="7.18" fill="#f3ecf4" stroke="#999" stroke-width="0.9"/>
<rect x="303.30" y="700.92" width="10.93" height="7.18" fill="#e9cfed" stroke="#999" stroke-width="0.9"/>
<rect x="314.23" y="700.92" width="10.93" height="7.18" fill="#f3f3f3" stroke="#999" stroke-width="0.9"/>
<rect x="325.15" y="700.92" width="10.93" height="7.18" fill="#dcb4e3" stroke="#999" stroke-width="0.9"/>
<rect x="336.08" y="700.92" width="10.93" height="7.18" fill="#f3ecf4" stroke="#999" stroke-width="0.9"/>
<rect x="347.00" y="700.92" width="10.93" height="7.18" fill="#2f6a34" stroke="#999" stroke-width="0.9"/>
<rect x="357.93" y="700.92" width="10.93" height="7.18" fill="#6aac6c" stroke="#999" stroke-width="0.9"/>
<rect x="368.85" y="700.92" width="10.93" height="7.18" fill="#52985a" stroke="#999" stroke-width="0.9"/>
<rect x="379.78" y="700.92" width="10.93" height="7.18" fill="#a8d2a8" stroke="#999" stroke-width="0.9"/>
<rect x="390.70" y="700.92" width="10.93" height="7.18" fill="#e8f1e8" stroke="#999" stroke-width="0.9"/>
<rect x="401.62" y="700.92" width="10.93" height="7.18" fill="#e8f1e8" stroke="#999" stroke-width="0.9"/>
<rect x="412.55" y="700.92" width="10.93" height="7.18" fill="#52985a" stroke="#999" stroke-width="0.9"/>
<rect x="423.48" y="700.92" width="10.93" height="7.18" fill="#6aac6c" stroke="#999" stroke-width="0.9"/>
<ellipse cx="265.06" cy="704.01" rx="1.0" ry="0.75" fill="#444"/>
<ellipse cx="275.99" cy="704.01" rx="1.0" ry="0.75" fill="#444"/>
<ellipse cx="352.46" cy="704.01" rx="1.0" ry="0.75" fill="#444"/>
<ellipse cx="363.39" cy="704.01" rx="1.0" ry="0.75" fill="#444"/>
<ellipse cx="374.31" cy="704.01" rx="1.0" ry="0.75" fill="#444"/>
<ellipse cx="385.24" cy="704.01" rx="1.0" ry="0.75" fill="#444"/>
<ellipse cx="418.01" cy="704.01" rx="1.0" ry="0.75" fill="#444"/>
<ellipse cx="428.94" cy="704.01" rx="1.0" ry="0.75" fill="#444"/>
<text x="435.40" y="706.86" font-size="7.55" fill="#000" stroke="#000" stroke-width="0.08">fruit_freq</text>
<rect x="259.60" y="708.10" width="10.93" height="7.18" fill="#d6ead6" stroke="#999" stroke-width="0.9"/>
<rect x="270.53" y="708.10" width="10.93" height="7.18" fill="#f0e2f2" stroke="#999" stroke-width="0.9"/>
<rect x="281.45" y="708.10" width="10.93" height="7.18" fill="#dcb4e3" stroke="#999" stroke-width="0.9"/>
<rect x="292.38" y="708.10" width="10.93" height="7.18" fill="#c2e1c2" stroke="#999" stroke-width="0.9"/>
<rect x="303.30" y="708.10" width="10.93" height="7.18" fill="#e8f1e8" stroke="#999" stroke-width="0.9"/>
<rect x="314.23" y="708.10" width="10.93" height="7.18" fill="#c2e1c2" stroke="#999" stroke-width="0.9"/>
<rect x="325.15" y="708.10" width="10.93" height="7.18" fill="#c88fd2" stroke="#999" stroke-width="0.9"/>
<rect x="336.08" y="708.10" width="10.93" height="7.18" fill="#e8f1e8" stroke="#999" stroke-width="0.9"/>
<rect x="347.00" y="708.10" width="10.93" height="7.18" fill="#f3f3f3" stroke="#999" stroke-width="0.9"/>
<rect x="357.93" y="708.10" width="10.93" height="7.18" fill="#e8f1e8" stroke="#999" stroke-width="0.9"/>
<rect x="368.85" y="708.10" width="10.93" height="7.18" fill="#e8f1e8" stroke="#999" stroke-width="0.9"/>
<rect x="379.78" y="708.10" width="10.93" height="7.18" fill="#e9cfed" stroke="#999" stroke-width="0.9"/>
<rect x="390.70" y="708.10" width="10.93" height="7.18" fill="#f3ecf4" stroke="#999" stroke-width="0.9"/>
<rect x="401.62" y="708.10" width="10.93" height="7.18" fill="#e8f1e8" stroke="#999" stroke-width="0.9"/>
<rect x="412.55" y="708.10" width="10.93" height="7.18" fill="#f0e2f2" stroke="#999" stroke-width="0.9"/>
<rect x="423.48" y="708.10" width="10.93" height="7.18" fill="#f3ecf4" stroke="#999" stroke-width="0.9"/>
<ellipse cx="330.61" cy="711.19" rx="1.0" ry="0.75" fill="#444"/>
<ellipse cx="385.24" cy="711.19" rx="1.0" ry="0.75" fill="#444"/>
<text x="435.40" y="714.04" font-size="7.55" fill="#000" stroke="#000" stroke-width="0.08">whole_grain</text>
<rect x="259.60" y="715.28" width="10.93" height="7.18" fill="#c2e1c2" stroke="#999" stroke-width="0.9"/>
<rect x="270.53" y="715.28" width="10.93" height="7.18" fill="#8cc48c" stroke="#999" stroke-width="0.9"/>
<rect x="281.45" y="715.28" width="10.93" height="7.18" fill="#f0e2f2" stroke="#999" stroke-width="0.9"/>
<rect x="292.38" y="715.28" width="10.93" height="7.18" fill="#c2e1c2" stroke="#999" stroke-width="0.9"/>
<rect x="303.30" y="715.28" width="10.93" height="7.18" fill="#c2e1c2" stroke="#999" stroke-width="0.9"/>
<rect x="314.23" y="715.28" width="10.93" height="7.18" fill="#a8d2a8" stroke="#999" stroke-width="0.9"/>
<rect x="325.15" y="715.28" width="10.93" height="7.18" fill="#c88fd2" stroke="#999" stroke-width="0.9"/>
<rect x="336.08" y="715.28" width="10.93" height="7.18" fill="#f3f3f3" stroke="#999" stroke-width="0.9"/>
<rect x="347.00" y="715.28" width="10.93" height="7.18" fill="#e8f1e8" stroke="#999" stroke-width="0.9"/>
<rect x="357.93" y="715.28" width="10.93" height="7.18" fill="#e9cfed" stroke="#999" stroke-width="0.9"/>
<rect x="368.85" y="715.28" width="10.93" height="7.18" fill="#f3ecf4" stroke="#999" stroke-width="0.9"/>
<rect x="379.78" y="715.28" width="10.93" height="7.18" fill="#c88fd2" stroke="#999" stroke-width="0.9"/>
<rect x="390.70" y="715.28" width="10.93" height="7.18" fill="#f3f3f3" stroke="#999" stroke-width="0.9"/>
<rect x="401.62" y="715.28" width="10.93" height="7.18" fill="#d6ead6" stroke="#999" stroke-width="0.9"/>
<rect x="412.55" y="715.28" width="10.93" height="7.18" fill="#e9cfed" stroke="#999" stroke-width="0.9"/>
<rect x="423.48" y="715.28" width="10.93" height="7.18" fill="#e8f1e8" stroke="#999" stroke-width="0.9"/>
<ellipse cx="265.06" cy="718.37" rx="1.0" ry="0.75" fill="#444"/>
<ellipse cx="275.99" cy="718.37" rx="1.0" ry="0.75" fill="#444"/>
<ellipse cx="330.61" cy="718.37" rx="1.0" ry="0.75" fill="#444"/>
<ellipse cx="385.24" cy="718.37" rx="1.0" ry="0.75" fill="#444"/>
<text x="435.40" y="721.22" font-size="7.55" fill="#000" stroke="#000" stroke-width="0.08">meal_ready_eat</text>
<rect x="259.60" y="722.46" width="10.93" height="7.18" fill="#e8f1e8" stroke="#999" stroke-width="0.9"/>
<rect x="270.53" y="722.46" width="10.93" height="7.18" fill="#e8f1e8" stroke="#999" stroke-width="0.9"/>
<rect x="281.45" y="722.46" width="10.93" height="7.18" fill="#e9cfed" stroke="#999" stroke-width="0.9"/>
<rect x="292.38" y="722.46" width="10.93" height="7.18" fill="#c2e1c2" stroke="#999" stroke-width="0.9"/>
<rect x="303.30" y="722.46" width="10.93" height="7.18" fill="#e9cfed" stroke="#999" stroke-width="0.9"/>
<rect x="314.23" y="722.46" width="10.93" height="7.18" fill="#e8f1e8" stroke="#999" stroke-width="0.9"/>
<rect x="325.15" y="722.46" width="10.93" height="7.18" fill="#e9cfed" stroke="#999" stroke-width="0.9"/>
<rect x="336.08" y="722.46" width="10.93" height="7.18" fill="#f0e2f2" stroke="#999" stroke-width="0.9"/>
<rect x="347.00" y="722.46" width="10.93" height="7.18" fill="#c2e1c2" stroke="#999" stroke-width="0.9"/>
<rect x="357.93" y="722.46" width="10.93" height="7.18" fill="#e8f1e8" stroke="#999" stroke-width="0.9"/>
<rect x="368.85" y="722.46" width="10.93" height="7.18" fill="#e8f1e8" stroke="#999" stroke-width="0.9"/>
<rect x="379.78" y="722.46" width="10.93" height="7.18" fill="#f3f3f3" stroke="#999" stroke-width="0.9"/>
<rect x="390.70" y="722.46" width="10.93" height="7.18" fill="#d6ead6" stroke="#999" stroke-width="0.9"/>
<rect x="401.62" y="722.46" width="10.93" height="7.18" fill="#c2e1c2" stroke="#999" stroke-width="0.9"/>
<rect x="412.55" y="722.46" width="10.93" height="7.18" fill="#f0e2f2" stroke="#999" stroke-width="0.9"/>
<rect x="423.48" y="722.46" width="10.93" height="7.18" fill="#e8f1e8" stroke="#999" stroke-width="0.9"/>
<ellipse cx="352.46" cy="725.55" rx="1.0" ry="0.75" fill="#444"/>
<text x="435.40" y="728.40" font-size="7.55" fill="#000" stroke="#000" stroke-width="0.08">restaurant</text>
<rect x="259.60" y="729.64" width="10.93" height="7.18" fill="#e9cfed" stroke="#999" stroke-width="0.9"/>
<rect x="270.53" y="729.64" width="10.93" height="7.18" fill="#52985a" stroke="#999" stroke-width="0.9"/>
<rect x="281.45" y="729.64" width="10.93" height="7.18" fill="#c88fd2" stroke="#999" stroke-width="0.9"/>
<rect x="292.38" y="729.64" width="10.93" height="7.18" fill="#f3f3f3" stroke="#999" stroke-width="0.9"/>
<rect x="303.30" y="729.64" width="10.93" height="7.18" fill="#f3f3f3" stroke="#999" stroke-width="0.9"/>
<rect x="314.23" y="729.64" width="10.93" height="7.18" fill="#c2e1c2" stroke="#999" stroke-width="0.9"/>
<rect x="325.15" y="729.64" width="10.93" height="7.18" fill="#dcb4e3" stroke="#999" stroke-width="0.9"/>
<rect x="336.08" y="729.64" width="10.93" height="7.18" fill="#f0e2f2" stroke="#999" stroke-width="0.9"/>
<rect x="347.00" y="729.64" width="10.93" height="7.18" fill="#e8f1e8" stroke="#999" stroke-width="0.9"/>
<rect x="357.93" y="729.64" width="10.93" height="7.18" fill="#f3ecf4" stroke="#999" stroke-width="0.9"/>
<rect x="368.85" y="729.64" width="10.93" height="7.18" fill="#f3f3f3" stroke="#999" stroke-width="0.9"/>
<rect x="379.78" y="729.64" width="10.93" height="7.18" fill="#f0e2f2" stroke="#999" stroke-width="0.9"/>
<rect x="390.70" y="729.64" width="10.93" height="7.18" fill="#c2e1c2" stroke="#999" stroke-width="0.9"/>
<rect x="401.62" y="729.64" width="10.93" height="7.18" fill="#d6ead6" stroke="#999" stroke-width="0.9"/>
<rect x="412.55" y="729.64" width="10.93" height="7.18" fill="#e9cfed" stroke="#999" stroke-width="0.9"/>
<rect x="423.48" y="729.64" width="10.93" height="7.18" fill="#e8f1e8" stroke="#999" stroke-width="0.9"/>
<ellipse cx="265.06" cy="732.73" rx="1.0" ry="0.75" fill="#444"/>
<ellipse cx="275.99" cy="732.73" rx="1.0" ry="0.75" fill="#444"/>
<ellipse cx="286.91" cy="732.73" rx="1.0" ry="0.75" fill="#444"/>
<text x="435.40" y="735.58" font-size="7.55" fill="#000" stroke="#000" stroke-width="0.08">sugary_food</text>
<rect x="259.60" y="736.82" width="10.93" height="7.18" fill="#f3ecf4" stroke="#999" stroke-width="0.9"/>
<rect x="270.53" y="736.82" width="10.93" height="7.18" fill="#8cc48c" stroke="#999" stroke-width="0.9"/>
<rect x="281.45" y="736.82" width="10.93" height="7.18" fill="#e9cfed" stroke="#999" stroke-width="0.9"/>
<rect x="292.38" y="736.82" width="10.93" height="7.18" fill="#f0e2f2" stroke="#999" stroke-width="0.9"/>
<rect x="303.30" y="736.82" width="10.93" height="7.18" fill="#e8f1e8" stroke="#999" stroke-width="0.9"/>
<rect x="314.23" y="736.82" width="10.93" height="7.18" fill="#f3ecf4" stroke="#999" stroke-width="0.9"/>
<rect x="325.15" y="736.82" width="10.93" height="7.18" fill="#e8f1e8" stroke="#999" stroke-width="0.9"/>
<rect x="336.08" y="736.82" width="10.93" height="7.18" fill="#dcb4e3" stroke="#999" stroke-width="0.9"/>
<rect x="347.00" y="736.82" width="10.93" height="7.18" fill="#e9cfed" stroke="#999" stroke-width="0.9"/>
<rect x="357.93" y="736.82" width="10.93" height="7.18" fill="#dcb4e3" stroke="#999" stroke-width="0.9"/>
<rect x="368.85" y="736.82" width="10.93" height="7.18" fill="#f3ecf4" stroke="#999" stroke-width="0.9"/>
<rect x="379.78" y="736.82" width="10.93" height="7.18" fill="#e8f1e8" stroke="#999" stroke-width="0.9"/>
<rect x="390.70" y="736.82" width="10.93" height="7.18" fill="#c2e1c2" stroke="#999" stroke-width="0.9"/>
<rect x="401.62" y="736.82" width="10.93" height="7.18" fill="#d6ead6" stroke="#999" stroke-width="0.9"/>
<rect x="412.55" y="736.82" width="10.93" height="7.18" fill="#e9cfed" stroke="#999" stroke-width="0.9"/>
<rect x="423.48" y="736.82" width="10.93" height="7.18" fill="#e8f1e8" stroke="#999" stroke-width="0.9"/>
<ellipse cx="275.99" cy="739.91" rx="1.0" ry="0.75" fill="#444"/>
<ellipse cx="352.46" cy="739.91" rx="1.0" ry="0.75" fill="#444"/>
<ellipse cx="363.39" cy="739.91" rx="1.0" ry="0.75" fill="#444"/>
<text x="435.40" y="742.76" font-size="7.55" fill="#000" stroke="#000" stroke-width="0.08">sweetened_drink</text>
<rect x="259.60" y="744.00" width="10.93" height="7.18" fill="#c2e1c2" stroke="#999" stroke-width="0.9"/>
<rect x="270.53" y="744.00" width="10.93" height="7.18" fill="#e8f1e8" stroke="#999" stroke-width="0.9"/>
<rect x="281.45" y="744.00" width="10.93" height="7.18" fill="#e8f1e8" stroke="#999" stroke-width="0.9"/>
<rect x="292.38" y="744.00" width="10.93" height="7.18" fill="#c2e1c2" stroke="#999" stroke-width="0.9"/>
<rect x="303.30" y="744.00" width="10.93" height="7.18" fill="#d6ead6" stroke="#999" stroke-width="0.9"/>
<rect x="314.23" y="744.00" width="10.93" height="7.18" fill="#f3f3f3" stroke="#999" stroke-width="0.9"/>
<rect x="325.15" y="744.00" width="10.93" height="7.18" fill="#e8f1e8" stroke="#999" stroke-width="0.9"/>
<rect x="336.08" y="744.00" width="10.93" height="7.18" fill="#f3f3f3" stroke="#999" stroke-width="0.9"/>
<rect x="347.00" y="744.00" width="10.93" height="7.18" fill="#f3ecf4" stroke="#999" stroke-width="0.9"/>
<rect x="357.93" y="744.00" width="10.93" height="7.18" fill="#e9cfed" stroke="#999" stroke-width="0.9"/>
<rect x="368.85" y="744.00" width="10.93" height="7.18" fill="#f0e2f2" stroke="#999" stroke-width="0.9"/>
<rect x="379.78" y="744.00" width="10.93" height="7.18" fill="#f0e2f2" stroke="#999" stroke-width="0.9"/>
<rect x="390.70" y="744.00" width="10.93" height="7.18" fill="#f3f3f3" stroke="#999" stroke-width="0.9"/>
<rect x="401.62" y="744.00" width="10.93" height="7.18" fill="#f3ecf4" stroke="#999" stroke-width="0.9"/>
<rect x="412.55" y="744.00" width="10.93" height="7.18" fill="#8cc48c" stroke="#999" stroke-width="0.9"/>
<rect x="423.48" y="744.00" width="10.93" height="7.18" fill="#d6ead6" stroke="#999" stroke-width="0.9"/>
<ellipse cx="265.06" cy="747.09" rx="1.0" ry="0.75" fill="#444"/>
<ellipse cx="418.01" cy="747.09" rx="1.0" ry="0.75" fill="#444"/>
<text x="435.40" y="749.94" font-size="7.55" fill="#000" stroke="#000" stroke-width="0.08">csection</text>
<rect x="259.60" y="751.18" width="10.93" height="7.18" fill="#a8d2a8" stroke="#999" stroke-width="0.9"/>
<rect x="270.53" y="751.18" width="10.93" height="7.18" fill="#52985a" stroke="#999" stroke-width="0.9"/>
<rect x="281.45" y="751.18" width="10.93" height="7.18" fill="#dcb4e3" stroke="#999" stroke-width="0.9"/>
<rect x="292.38" y="751.18" width="10.93" height="7.18" fill="#a8d2a8" stroke="#999" stroke-width="0.9"/>
<rect x="303.30" y="751.18" width="10.93" height="7.18" fill="#f3ecf4" stroke="#999" stroke-width="0.9"/>
<rect x="314.23" y="751.18" width="10.93" height="7.18" fill="#c2e1c2" stroke="#999" stroke-width="0.9"/>
<rect x="325.15" y="751.18" width="10.93" height="7.18" fill="#e8f1e8" stroke="#999" stroke-width="0.9"/>
<rect x="336.08" y="751.18" width="10.93" height="7.18" fill="#c2e1c2" stroke="#999" stroke-width="0.9"/>
<rect x="347.00" y="751.18" width="10.93" height="7.18" fill="#f3ecf4" stroke="#999" stroke-width="0.9"/>
<rect x="357.93" y="751.18" width="10.93" height="7.18" fill="#e9cfed" stroke="#999" stroke-width="0.9"/>
<rect x="368.85" y="751.18" width="10.93" height="7.18" fill="#e9cfed" stroke="#999" stroke-width="0.9"/>
<rect x="379.78" y="751.18" width="10.93" height="7.18" fill="#c88fd2" stroke="#999" stroke-width="0.9"/>
<rect x="390.70" y="751.18" width="10.93" height="7.18" fill="#e8f1e8" stroke="#999" stroke-width="0.9"/>
<rect x="401.62" y="751.18" width="10.93" height="7.18" fill="#dcb4e3" stroke="#999" stroke-width="0.9"/>
<rect x="412.55" y="751.18" width="10.93" height="7.18" fill="#f3ecf4" stroke="#999" stroke-width="0.9"/>
<rect x="423.48" y="751.18" width="10.93" height="7.18" fill="#e9cfed" stroke="#999" stroke-width="0.9"/>
<ellipse cx="265.06" cy="754.27" rx="1.0" ry="0.75" fill="#444"/>
<ellipse cx="275.99" cy="754.27" rx="1.0" ry="0.75" fill="#444"/>
<ellipse cx="385.24" cy="754.27" rx="1.0" ry="0.75" fill="#444"/>
<text x="435.40" y="757.12" font-size="7.55" fill="#000" stroke="#000" stroke-width="0.08">starchy_food</text>
<rect x="259.60" y="758.36" width="10.93" height="7.18" fill="#8cc48c" stroke="#999" stroke-width="0.9"/>
<rect x="270.53" y="758.36" width="10.93" height="7.18" fill="#52985a" stroke="#999" stroke-width="0.9"/>
<rect x="281.45" y="758.36" width="10.93" height="7.18" fill="#c88fd2" stroke="#999" stroke-width="0.9"/>
<rect x="292.38" y="758.36" width="10.93" height="7.18" fill="#8cc48c" stroke="#999" stroke-width="0.9"/>
<rect x="303.30" y="758.36" width="10.93" height="7.18" fill="#d6ead6" stroke="#999" stroke-width="0.9"/>
<rect x="314.23" y="758.36" width="10.93" height="7.18" fill="#d6ead6" stroke="#999" stroke-width="0.9"/>
<rect x="325.15" y="758.36" width="10.93" height="7.18" fill="#f3ecf4" stroke="#999" stroke-width="0.9"/>
<rect x="336.08" y="758.36" width="10.93" height="7.18" fill="#f3f3f3" stroke="#999" stroke-width="0.9"/>
<rect x="347.00" y="758.36" width="10.93" height="7.18" fill="#f3ecf4" stroke="#999" stroke-width="0.9"/>
<rect x="357.93" y="758.36" width="10.93" height="7.18" fill="#e9cfed" stroke="#999" stroke-width="0.9"/>
<rect x="368.85" y="758.36" width="10.93" height="7.18" fill="#e9cfed" stroke="#999" stroke-width="0.9"/>
<rect x="379.78" y="758.36" width="10.93" height="7.18" fill="#e9cfed" stroke="#999" stroke-width="0.9"/>
<rect x="390.70" y="758.36" width="10.93" height="7.18" fill="#e8f1e8" stroke="#999" stroke-width="0.9"/>
<rect x="401.62" y="758.36" width="10.93" height="7.18" fill="#f3ecf4" stroke="#999" stroke-width="0.9"/>
<rect x="412.55" y="758.36" width="10.93" height="7.18" fill="#d6ead6" stroke="#999" stroke-width="0.9"/>
<rect x="423.48" y="758.36" width="10.93" height="7.18" fill="#f3ecf4" stroke="#999" stroke-width="0.9"/>
<ellipse cx="265.06" cy="761.45" rx="1.0" ry="0.75" fill="#444"/>
<ellipse cx="275.99" cy="761.45" rx="1.0" ry="0.75" fill="#444"/>
<ellipse cx="286.91" cy="761.45" rx="1.0" ry="0.75" fill="#444"/>
<ellipse cx="385.24" cy="761.45" rx="1.0" ry="0.75" fill="#444"/>
<text x="435.40" y="764.30" font-size="7.55" fill="#000" stroke="#000" stroke-width="0.08">dairy</text>
<rect x="259.60" y="765.54" width="10.93" height="7.18" fill="#a8d2a8" stroke="#999" stroke-width="0.9"/>
<rect x="270.53" y="765.54" width="10.93" height="7.18" fill="#3c7e42" stroke="#999" stroke-width="0.9"/>
<rect x="281.45" y="765.54" width="10.93" height="7.18" fill="#dcb4e3" stroke="#999" stroke-width="0.9"/>
<rect x="292.38" y="765.54" width="10.93" height="7.18" fill="#8cc48c" stroke="#999" stroke-width="0.9"/>
<rect x="303.30" y="765.54" width="10.93" height="7.18" fill="#e8f1e8" stroke="#999" stroke-width="0.9"/>
<rect x="314.23" y="765.54" width="10.93" height="7.18" fill="#c2e1c2" stroke="#999" stroke-width="0.9"/>
<rect x="325.15" y="765.54" width="10.93" height="7.18" fill="#e8f1e8" stroke="#999" stroke-width="0.9"/>
<rect x="336.08" y="765.54" width="10.93" height="7.18" fill="#f3f3f3" stroke="#999" stroke-width="0.9"/>
<rect x="347.00" y="765.54" width="10.93" height="7.18" fill="#e9cfed" stroke="#999" stroke-width="0.9"/>
<rect x="357.93" y="765.54" width="10.93" height="7.18" fill="#f3ecf4" stroke="#999" stroke-width="0.9"/>
<rect x="368.85" y="765.54" width="10.93" height="7.18" fill="#c88fd2" stroke="#999" stroke-width="0.9"/>
<rect x="379.78" y="765.54" width="10.93" height="7.18" fill="#f3ecf4" stroke="#999" stroke-width="0.9"/>
<rect x="390.70" y="765.54" width="10.93" height="7.18" fill="#d6ead6" stroke="#999" stroke-width="0.9"/>
<rect x="401.62" y="765.54" width="10.93" height="7.18" fill="#f0e2f2" stroke="#999" stroke-width="0.9"/>
<rect x="412.55" y="765.54" width="10.93" height="7.18" fill="#c2e1c2" stroke="#999" stroke-width="0.9"/>
<rect x="423.48" y="765.54" width="10.93" height="7.18" fill="#f3f3f3" stroke="#999" stroke-width="0.9"/>
<ellipse cx="265.06" cy="768.63" rx="1.0" ry="0.75" fill="#444"/>
<ellipse cx="275.99" cy="768.63" rx="1.0" ry="0.75" fill="#444"/>
<ellipse cx="352.46" cy="768.63" rx="1.0" ry="0.75" fill="#444"/>
<ellipse cx="374.31" cy="768.63" rx="1.0" ry="0.75" fill="#444"/>
<text x="435.40" y="771.48" font-size="7.55" fill="#000" stroke="#000" stroke-width="0.08">dairy_freq</text>
<text x="268.46" y="778.72" font-size="7.7" text-anchor="end" stroke="#000" stroke-width="0.08" transform="rotate(-45 268.46 778.72)">topic1_16s</text>
<text x="279.39" y="778.72" font-size="7.7" text-anchor="end" stroke="#000" stroke-width="0.08" transform="rotate(-45 279.39 778.72)">topic1_MBX</text>
<text x="290.31" y="778.72" font-size="7.7" text-anchor="end" stroke="#000" stroke-width="0.08" transform="rotate(-45 290.31 778.72)">topic1_MBX.1</text>
<text x="301.24" y="778.72" font-size="7.7" text-anchor="end" stroke="#000" stroke-width="0.08" transform="rotate(-45 301.24 778.72)">topic1_MBX.2</text>
<text x="312.16" y="778.72" font-size="7.7" text-anchor="end" stroke="#000" stroke-width="0.08" transform="rotate(-45 312.16 778.72)">topic1_MTG</text>
<text x="323.09" y="778.72" font-size="7.7" text-anchor="end" stroke="#000" stroke-width="0.08" transform="rotate(-45 323.09 778.72)">topic1_MTG.1</text>
<text x="334.01" y="778.72" font-size="7.7" text-anchor="end" stroke="#000" stroke-width="0.08" transform="rotate(-45 334.01 778.72)">topic1_MTT</text>
<text x="344.94" y="778.72" font-size="7.7" text-anchor="end" stroke="#000" stroke-width="0.08" transform="rotate(-45 344.94 778.72)">topic1_MTT.1</text>
<text x="355.86" y="778.72" font-size="7.7" text-anchor="end" stroke="#000" stroke-width="0.08" transform="rotate(-45 355.86 778.72)">topic2_16s</text>
<text x="366.79" y="778.72" font-size="7.7" text-anchor="end" stroke="#000" stroke-width="0.08" transform="rotate(-45 366.79 778.72)">topic2_MBX</text>
<text x="377.71" y="778.72" font-size="7.7" text-anchor="end" stroke="#000" stroke-width="0.08" transform="rotate(-45 377.71 778.72)">topic2_MTG</text>
<text x="388.64" y="778.72" font-size="7.7" text-anchor="end" stroke="#000" stroke-width="0.08" transform="rotate(-45 388.64 778.72)">topic4_16s</text>
<text x="399.56" y="778.72" font-size="7.7" text-anchor="end" stroke="#000" stroke-width="0.08" transform="rotate(-45 399.56 778.72)">topic4_MBX</text>
<text x="410.49" y="778.72" font-size="7.7" text-anchor="end" stroke="#000" stroke-width="0.08" transform="rotate(-45 410.49 778.72)">topic4_MBX.1</text>
<text x="421.41" y="778.72" font-size="7.7" text-anchor="end" stroke="#000" stroke-width="0.08" transform="rotate(-45 421.41 778.72)">topic4_MTG</text>
<text x="432.34" y="778.72" font-size="7.7" text-anchor="end" stroke="#000" stroke-width="0.08" transform="rotate(-45 432.34 778.72)">topic4_MTT</text>
<path d="M255.50 618.40V625.60 M255.50 618.40H259.60 M255.50 625.60H259.60 M252.40 611.20V622.00 M252.40 611.20H259.60 M252.40 622.00H255.50 M246.40 604.00V616.60 M246.40 604.00H259.60 M246.40 616.60H252.40 M231.20 610.30V653.70 M231.20 610.30H246.40 M231.20 653.70H237.10 M219.40 632.00V734.60 M219.40 632.00H231.20 M219.40 734.60H230.70 M237.10 639.30V668.40 M237.10 639.30H248.20 M237.10 668.40H245.30 M248.20 632.70V645.90 M248.20 632.70H259.60 M248.20 645.90H251.50 M251.50 639.90V650.70 M251.50 639.90H259.60 M251.50 650.70H257.50 M257.50 647.10V654.30 M257.50 647.10H259.60 M257.50 654.30H259.60 M245.30 661.50V675.30 M245.30 661.50H259.60 M245.30 675.30H248.40 M248.40 668.60V682.30 M248.40 668.60H259.60 M248.40 682.30H253.60 M253.60 675.90V689.50 M253.60 675.90H259.60 M253.60 689.50H256.60 M256.60 683.00V700.90 M256.60 683.00H259.60 M256.60 690.20H259.60 M256.60 700.90H258.50 M258.50 697.40V704.60 M258.50 697.40H259.60 M258.50 704.60H259.60 M230.70 722.40V747.20 M230.70 722.40H247.00 M230.70 747.20H241.40 M247.00 715.30V729.70 M247.00 715.30H252.40 M247.00 729.70H251.40 M252.40 711.70V718.90 M252.40 711.70H259.60 M252.40 718.90H259.60 M251.40 726.10V733.20 M251.40 726.10H259.60 M251.40 733.20H259.60 M241.40 740.40V754.00 M241.40 740.40H259.60 M241.40 754.00H247.50 M247.50 747.60V760.30 M247.50 747.60H259.60 M247.50 760.30H255.40 M255.40 754.80V765.50 M255.40 754.80H259.60 M255.40 765.50H258.00 M258.00 762.00V769.10 M258.00 762.00H259.60 M258.00 769.10H259.60" fill="none" stroke="#333" stroke-width="0.9"/>
<defs><linearGradient id="ecb" x1="0" y1="0" x2="0" y2="1"><stop offset="0" stop-color="#6c4a78"/><stop offset="0.08" stop-color="#845a92"/><stop offset="0.17" stop-color="#b47ec2"/><stop offset="0.27" stop-color="#c99bd4"/><stop offset="0.38" stop-color="#e0c6e6"/><stop offset="0.47" stop-color="#efe6f0"/><stop offset="0.53" stop-color="#f1f1f1"/><stop offset="0.6" stop-color="#dcebdc"/><stop offset="0.66" stop-color="#bcdcbc"/><stop offset="0.73" stop-color="#98c898"/><stop offset="0.8" stop-color="#6aac6a"/><stop offset="0.86" stop-color="#4a964c"/><stop offset="0.93" stop-color="#3a7a3c"/><stop offset="1.0" stop-color="#2a5a2c"/></linearGradient></defs>
<rect x="637.6" y="628.9" width="9.8" height="145.6" fill="url(#ecb)"/>
<text x="651.30" y="651.70" font-size="9.8" fill="#000">0.3</text>
<text x="651.30" y="670.77" font-size="9.8" fill="#000">0.2</text>
<text x="651.30" y="689.84" font-size="9.8" fill="#000">0.1</text>
<text x="651.30" y="708.91" font-size="9.8" fill="#000">0</text>
<text x="651.30" y="727.98" font-size="9.8" fill="#000">−0.1</text>
<text x="651.30" y="747.05" font-size="9.8" fill="#000">−0.2</text>
<text x="651.30" y="766.12" font-size="9.8" fill="#000">−0.3</text>
</svg>
</body></html>
